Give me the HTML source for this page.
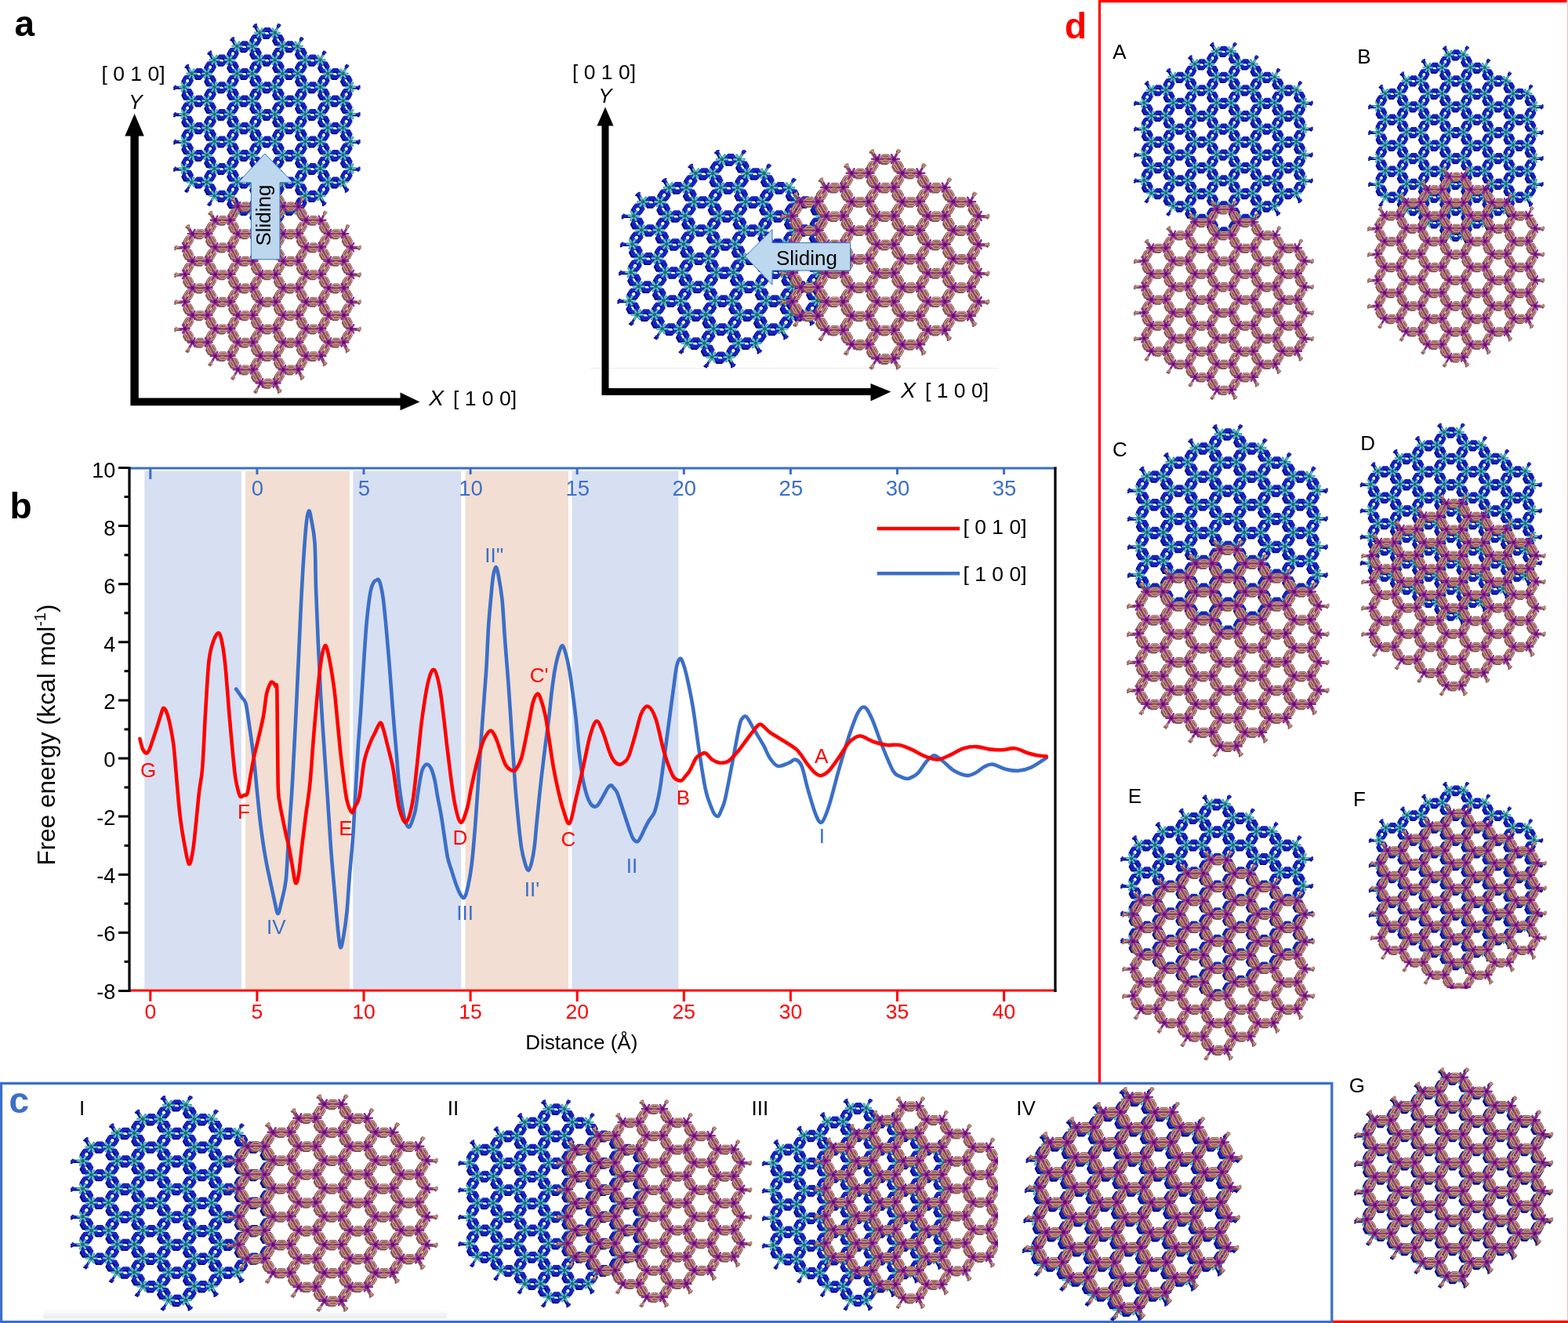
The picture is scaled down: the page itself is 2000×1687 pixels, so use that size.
<!DOCTYPE html><html><head><meta charset="utf-8"><title>Figure</title><style>
body{margin:0;background:#fff}
svg{display:block}
text{font-family:"Liberation Sans",Arial,sans-serif}
.rbs{fill:none;stroke:#06087a;stroke-width:.11;stroke-linejoin:round}
.rb1{fill:none;stroke:#0a10a2;stroke-width:.13;stroke-linejoin:round}
.rb2{fill:none;stroke:#2238dc;stroke-width:.05;stroke-linejoin:round}
.nb1{fill:none;stroke:#2f9a9e;stroke-width:.14;stroke-linecap:round}
.nb2{fill:none;stroke:#86e0e0;stroke-width:.045;stroke-linecap:round}
.cb{fill:none;stroke:#246a70;stroke-width:.22;stroke-linecap:round}
.rps{fill:none;stroke:#8a5a56;stroke-width:.11;stroke-linejoin:round}
.rp1{fill:none;stroke:#744c48;stroke-width:.13;stroke-linejoin:round}
.rp2{fill:none;stroke:#d89a90;stroke-width:.065;stroke-linejoin:round}
.np1{fill:none;stroke:#7c1a86;stroke-width:.12;stroke-linecap:round}
.np2{fill:none;stroke:#b63cc0;stroke-width:.04;stroke-linecap:round}
.cp{fill:none;stroke:#62106c;stroke-width:.22;stroke-linecap:round}
</style></head><body>
<svg width="2000" height="1687" viewBox="0 0 2000 1687">
<defs>
<path id="R" d="M-2.7 -2.66L-2.85 -2.5 -3.15 -2.5 -3.3 -2.66 -3.15 -2.82 -2.85 -2.82ZM-2.7 -2.54L-2.85 -2.37 -3.15 -2.37 -3.3 -2.54 -3.15 -2.7 -2.85 -2.7ZM-3.4 -2.66L-3.3 -2.66M-2.7 -2.66L-2.6 -2.66M-3.4 -2.54L-3.3 -2.54M-2.7 -2.54L-2.6 -2.54M-3.85 -1.87L-3.91 -2.08 -3.76 -2.34 -3.55 -2.39 -3.48 -2.18 -3.63 -1.92ZM-3.95 -1.94L-4.02 -2.15 -3.87 -2.41 -3.65 -2.46 -3.59 -2.25 -3.74 -1.99ZM-3.5 -2.48L-3.55 -2.39M-3.85 -1.87L-3.9 -1.79M-3.6 -2.54L-3.65 -2.46M-3.95 -1.94L-4 -1.85M-3.95 -3.26L-3.74 -3.21 -3.59 -2.95 -3.65 -2.74 -3.87 -2.79 -4.02 -3.05ZM-3.85 -3.32L-3.63 -3.27 -3.48 -3.01 -3.55 -2.8 -3.76 -2.85 -3.91 -3.11ZM-3.6 -2.65L-3.65 -2.74M-3.95 -3.26L-4 -3.35M-3.5 -2.72L-3.55 -2.8M-3.85 -3.32L-3.9 -3.41M-3.55 -1.07L-3.76 -1.12 -3.91 -1.38 -3.85 -1.59 -3.63 -1.54 -3.48 -1.28ZM-3.65 -1.01L-3.87 -1.06 -4.02 -1.32 -3.95 -1.53 -3.74 -1.48 -3.59 -1.22ZM-3.9 -1.68L-3.85 -1.59M-3.55 -1.07L-3.5 -.98M-4 -1.61L-3.95 -1.53M-3.65 -1.01L-3.6 -.92M-4.8 -1.67L-4.65 -1.83 -4.35 -1.83 -4.2 -1.67 -4.35 -1.51 -4.65 -1.51ZM-4.8 -1.79L-4.65 -1.96 -4.35 -1.96 -4.2 -1.79 -4.35 -1.63 -4.65 -1.63ZM-4.1 -1.67L-4.2 -1.67M-4.8 -1.67L-4.9 -1.67M-4.1 -1.79L-4.2 -1.79M-4.8 -1.79L-4.9 -1.79M-5.35 -1.01L-5.41 -1.22 -5.26 -1.48 -5.05 -1.53 -4.98 -1.32 -5.13 -1.06ZM-5.45 -1.07L-5.52 -1.28 -5.37 -1.54 -5.15 -1.59 -5.09 -1.38 -5.24 -1.12ZM-5 -1.61L-5.05 -1.53M-5.35 -1.01L-5.4 -.92M-5.1 -1.68L-5.15 -1.59M-5.45 -1.07L-5.5 -.98M-5.45 -2.39L-5.24 -2.34 -5.09 -2.08 -5.15 -1.87 -5.37 -1.92 -5.52 -2.18ZM-5.35 -2.46L-5.13 -2.41 -4.98 -2.15 -5.05 -1.94 -5.26 -1.99 -5.41 -2.25ZM-5.1 -1.79L-5.15 -1.87M-5.45 -2.39L-5.5 -2.48M-5 -1.85L-5.05 -1.94M-5.35 -2.46L-5.4 -2.54M-5.15 -3.32L-5.09 -3.11 -5.24 -2.85 -5.45 -2.8 -5.52 -3.01 -5.37 -3.27ZM-5.05 -3.26L-4.98 -3.05 -5.13 -2.79 -5.35 -2.74 -5.41 -2.95 -5.26 -3.21ZM-5.5 -2.72L-5.45 -2.8M-5.15 -3.32L-5.1 -3.41M-5.4 -2.65L-5.35 -2.74M-5.05 -3.26L-5 -3.35M-4.2 -3.53L-4.35 -3.37 -4.65 -3.37 -4.8 -3.53 -4.65 -3.69 -4.35 -3.69ZM-4.2 -3.4L-4.35 -3.24 -4.65 -3.24 -4.8 -3.4 -4.65 -3.56 -4.35 -3.56ZM-4.9 -3.53L-4.8 -3.53M-4.2 -3.53L-4.1 -3.53M-4.9 -3.4L-4.8 -3.4M-4.2 -3.4L-4.1 -3.4M-3.65 -4.19L-3.59 -3.98 -3.74 -3.72 -3.95 -3.67 -4.02 -3.88 -3.87 -4.14ZM-3.55 -4.13L-3.48 -3.92 -3.63 -3.66 -3.85 -3.61 -3.91 -3.82 -3.76 -4.08ZM-4 -3.58L-3.95 -3.67M-3.65 -4.19L-3.6 -4.27M-3.9 -3.52L-3.85 -3.61M-3.55 -4.13L-3.5 -4.21M-2.7 -.93L-2.85 -.77 -3.15 -.77 -3.3 -.93 -3.15 -1.09 -2.85 -1.09ZM-2.7 -.8L-2.85 -.64 -3.15 -.64 -3.3 -.8 -3.15 -.97 -2.85 -.97ZM-3.4 -.93L-3.3 -.93M-2.7 -.93L-2.6 -.93M-3.4 -.8L-3.3 -.8M-2.7 -.8L-2.6 -.8M-3.85 -.14L-3.91 -.35 -3.76 -.61 -3.55 -.66 -3.48 -.45 -3.63 -.19ZM-3.95 -.2L-4.02 -.41 -3.87 -.67 -3.65 -.72 -3.59 -.51 -3.74 -.25ZM-3.5 -.75L-3.55 -.66M-3.85 -.14L-3.9 -.06M-3.6 -.81L-3.65 -.72M-3.95 -.2L-4 -.12M-3.55 .66L-3.76 .61 -3.91 .35 -3.85 .14 -3.63 .19 -3.48 .45ZM-3.65 .72L-3.87 .67 -4.02 .41 -3.95 .2 -3.74 .25 -3.59 .51ZM-3.9 .06L-3.85 .14M-3.55 .66L-3.5 .75M-4 .12L-3.95 .2M-3.65 .72L-3.6 .81M-4.8 .06L-4.65 -.1 -4.35 -.1 -4.2 .06 -4.35 .22 -4.65 .22ZM-4.8 -.06L-4.65 -.22 -4.35 -.22 -4.2 -.06 -4.35 .1 -4.65 .1ZM-4.1 .06L-4.2 .06M-4.8 .06L-4.9 .06M-4.1 -.06L-4.2 -.06M-4.8 -.06L-4.9 -.06M-5.35 .72L-5.41 .51 -5.26 .25 -5.05 .2 -4.98 .41 -5.13 .67ZM-5.45 .66L-5.52 .45 -5.37 .19 -5.15 .14 -5.09 .35 -5.24 .61ZM-5 .12L-5.05 .2M-5.35 .72L-5.4 .81M-5.1 .06L-5.15 .14M-5.45 .66L-5.5 .75M-5.45 -.66L-5.24 -.61 -5.09 -.35 -5.15 -.14 -5.37 -.19 -5.52 -.45ZM-5.35 -.72L-5.13 -.67 -4.98 -.41 -5.05 -.2 -5.26 -.25 -5.41 -.51ZM-5.1 -.06L-5.15 -.14M-5.45 -.66L-5.5 -.75M-5 -.12L-5.05 -.2M-5.35 -.72L-5.4 -.81M-2.7 .8L-2.85 .97 -3.15 .97 -3.3 .8 -3.15 .64 -2.85 .64ZM-2.7 .93L-2.85 1.09 -3.15 1.09 -3.3 .93 -3.15 .77 -2.85 .77ZM-3.4 .8L-3.3 .8M-2.7 .8L-2.6 .8M-3.4 .93L-3.3 .93M-2.7 .93L-2.6 .93M-3.85 1.59L-3.91 1.38 -3.76 1.12 -3.55 1.07 -3.48 1.28 -3.63 1.54ZM-3.95 1.53L-4.02 1.32 -3.87 1.06 -3.65 1.01 -3.59 1.22 -3.74 1.48ZM-3.5 .98L-3.55 1.07M-3.85 1.59L-3.9 1.68M-3.6 .92L-3.65 1.01M-3.95 1.53L-4 1.61M-3.55 2.39L-3.76 2.34 -3.91 2.08 -3.85 1.87 -3.63 1.92 -3.48 2.18ZM-3.65 2.46L-3.87 2.41 -4.02 2.15 -3.95 1.94 -3.74 1.99 -3.59 2.25ZM-3.9 1.79L-3.85 1.87M-3.55 2.39L-3.5 2.48M-4 1.85L-3.95 1.94M-3.65 2.46L-3.6 2.54M-4.8 1.79L-4.65 1.63 -4.35 1.63 -4.2 1.79 -4.35 1.96 -4.65 1.96ZM-4.8 1.67L-4.65 1.51 -4.35 1.51 -4.2 1.67 -4.35 1.83 -4.65 1.83ZM-4.1 1.79L-4.2 1.79M-4.8 1.79L-4.9 1.79M-4.1 1.67L-4.2 1.67M-4.8 1.67L-4.9 1.67M-5.35 2.46L-5.41 2.25 -5.26 1.99 -5.05 1.94 -4.98 2.15 -5.13 2.41ZM-5.45 2.39L-5.52 2.18 -5.37 1.92 -5.15 1.87 -5.09 2.08 -5.24 2.34ZM-5 1.85L-5.05 1.94M-5.35 2.46L-5.4 2.54M-5.1 1.79L-5.15 1.87M-5.45 2.39L-5.5 2.48M-5.45 1.07L-5.24 1.12 -5.09 1.38 -5.15 1.59 -5.37 1.54 -5.52 1.28ZM-5.35 1.01L-5.13 1.06 -4.98 1.32 -5.05 1.53 -5.26 1.48 -5.41 1.22ZM-5.1 1.68L-5.15 1.59M-5.45 1.07L-5.5 .98M-5 1.61L-5.05 1.53M-5.35 1.01L-5.4 .92M-2.7 2.54L-2.85 2.7 -3.15 2.7 -3.3 2.54 -3.15 2.37 -2.85 2.37ZM-2.7 2.66L-2.85 2.82 -3.15 2.82 -3.3 2.66 -3.15 2.5 -2.85 2.5ZM-3.4 2.54L-3.3 2.54M-2.7 2.54L-2.6 2.54M-3.4 2.66L-3.3 2.66M-2.7 2.66L-2.6 2.66M-3.85 3.32L-3.91 3.11 -3.76 2.85 -3.55 2.8 -3.48 3.01 -3.63 3.27ZM-3.95 3.26L-4.02 3.05 -3.87 2.79 -3.65 2.74 -3.59 2.95 -3.74 3.21ZM-3.5 2.72L-3.55 2.8M-3.85 3.32L-3.9 3.41M-3.6 2.65L-3.65 2.74M-3.95 3.26L-4 3.35M-3.55 4.13L-3.76 4.08 -3.91 3.82 -3.85 3.61 -3.63 3.66 -3.48 3.92ZM-3.65 4.19L-3.87 4.14 -4.02 3.88 -3.95 3.67 -3.74 3.72 -3.59 3.98ZM-3.9 3.52L-3.85 3.61M-3.55 4.13L-3.5 4.21M-4 3.58L-3.95 3.67M-3.65 4.19L-3.6 4.27M-4.8 3.53L-4.65 3.37 -4.35 3.37 -4.2 3.53 -4.35 3.69 -4.65 3.69ZM-4.8 3.4L-4.65 3.24 -4.35 3.24 -4.2 3.4 -4.35 3.56 -4.65 3.56ZM-4.1 3.53L-4.2 3.53M-4.8 3.53L-4.9 3.53M-4.1 3.4L-4.2 3.4M-4.8 3.4L-4.9 3.4M-5.45 2.8L-5.24 2.85 -5.09 3.11 -5.15 3.32 -5.37 3.27 -5.52 3.01ZM-5.35 2.74L-5.13 2.79 -4.98 3.05 -5.05 3.26 -5.26 3.21 -5.41 2.95ZM-5.1 3.41L-5.15 3.32M-5.45 2.8L-5.5 2.72M-5 3.35L-5.05 3.26M-5.35 2.74L-5.4 2.65M-1.2 -3.53L-1.35 -3.37 -1.65 -3.37 -1.8 -3.53 -1.65 -3.69 -1.35 -3.69ZM-1.2 -3.4L-1.35 -3.24 -1.65 -3.24 -1.8 -3.4 -1.65 -3.56 -1.35 -3.56ZM-1.9 -3.53L-1.8 -3.53M-1.2 -3.53L-1.1 -3.53M-1.9 -3.4L-1.8 -3.4M-1.2 -3.4L-1.1 -3.4M-2.35 -2.74L-2.41 -2.95 -2.26 -3.21 -2.05 -3.26 -1.98 -3.05 -2.13 -2.79ZM-2.45 -2.8L-2.52 -3.01 -2.37 -3.27 -2.15 -3.32 -2.09 -3.11 -2.24 -2.85ZM-2 -3.35L-2.05 -3.26M-2.35 -2.74L-2.4 -2.65M-2.1 -3.41L-2.15 -3.32M-2.45 -2.8L-2.5 -2.72M-2.45 -4.13L-2.24 -4.08 -2.09 -3.82 -2.15 -3.61 -2.37 -3.66 -2.52 -3.92ZM-2.35 -4.19L-2.13 -4.14 -1.98 -3.88 -2.05 -3.67 -2.26 -3.72 -2.41 -3.98ZM-2.1 -3.52L-2.15 -3.61M-2.45 -4.13L-2.5 -4.21M-2 -3.58L-2.05 -3.67M-2.35 -4.19L-2.4 -4.27M-2.05 -1.94L-2.26 -1.99 -2.41 -2.25 -2.35 -2.46 -2.13 -2.41 -1.98 -2.15ZM-2.15 -1.87L-2.37 -1.92 -2.52 -2.18 -2.45 -2.39 -2.24 -2.34 -2.09 -2.08ZM-2.4 -2.54L-2.35 -2.46M-2.05 -1.94L-2 -1.85M-2.5 -2.48L-2.45 -2.39M-2.15 -1.87L-2.1 -1.79M-2.7 -4.39L-2.85 -4.23 -3.15 -4.23 -3.3 -4.39 -3.15 -4.55 -2.85 -4.55ZM-2.7 -4.27L-2.85 -4.11 -3.15 -4.11 -3.3 -4.27 -3.15 -4.43 -2.85 -4.43ZM-3.4 -4.39L-3.3 -4.39M-2.7 -4.39L-2.6 -4.39M-3.4 -4.27L-3.3 -4.27M-2.7 -4.27L-2.6 -4.27M-2.15 -5.05L-2.09 -4.84 -2.24 -4.58 -2.45 -4.53 -2.52 -4.74 -2.37 -5ZM-2.05 -4.99L-1.98 -4.78 -2.13 -4.52 -2.35 -4.47 -2.41 -4.68 -2.26 -4.94ZM-2.5 -4.45L-2.45 -4.53M-2.15 -5.05L-2.1 -5.14M-2.4 -4.39L-2.35 -4.47M-2.05 -4.99L-2 -5.08M-1.2 -1.79L-1.35 -1.63 -1.65 -1.63 -1.8 -1.79 -1.65 -1.96 -1.35 -1.96ZM-1.2 -1.67L-1.35 -1.51 -1.65 -1.51 -1.8 -1.67 -1.65 -1.83 -1.35 -1.83ZM-1.9 -1.79L-1.8 -1.79M-1.2 -1.79L-1.1 -1.79M-1.9 -1.67L-1.8 -1.67M-1.2 -1.67L-1.1 -1.67M-2.35 -1.01L-2.41 -1.22 -2.26 -1.48 -2.05 -1.53 -1.98 -1.32 -2.13 -1.06ZM-2.45 -1.07L-2.52 -1.28 -2.37 -1.54 -2.15 -1.59 -2.09 -1.38 -2.24 -1.12ZM-2 -1.61L-2.05 -1.53M-2.35 -1.01L-2.4 -.92M-2.1 -1.68L-2.15 -1.59M-2.45 -1.07L-2.5 -.98M-2.05 -.2L-2.26 -.25 -2.41 -.51 -2.35 -.72 -2.13 -.67 -1.98 -.41ZM-2.15 -.14L-2.37 -.19 -2.52 -.45 -2.45 -.66 -2.24 -.61 -2.09 -.35ZM-2.4 -.81L-2.35 -.72M-2.05 -.2L-2 -.12M-2.5 -.75L-2.45 -.66M-2.15 -.14L-2.1 -.06M-1.2 -.06L-1.35 .1 -1.65 .1 -1.8 -.06 -1.65 -.22 -1.35 -.22ZM-1.2 .06L-1.35 .22 -1.65 .22 -1.8 .06 -1.65 -.1 -1.35 -.1ZM-1.9 -.06L-1.8 -.06M-1.2 -.06L-1.1 -.06M-1.9 .06L-1.8 .06M-1.2 .06L-1.1 .06M-2.35 .72L-2.41 .51 -2.26 .25 -2.05 .2 -1.98 .41 -2.13 .67ZM-2.45 .66L-2.52 .45 -2.37 .19 -2.15 .14 -2.09 .35 -2.24 .61ZM-2 .12L-2.05 .2M-2.35 .72L-2.4 .81M-2.1 .06L-2.15 .14M-2.45 .66L-2.5 .75M-2.05 1.53L-2.26 1.48 -2.41 1.22 -2.35 1.01 -2.13 1.06 -1.98 1.32ZM-2.15 1.59L-2.37 1.54 -2.52 1.28 -2.45 1.07 -2.24 1.12 -2.09 1.38ZM-2.4 .92L-2.35 1.01M-2.05 1.53L-2 1.61M-2.5 .98L-2.45 1.07M-2.15 1.59L-2.1 1.68M-1.2 1.67L-1.35 1.83 -1.65 1.83 -1.8 1.67 -1.65 1.51 -1.35 1.51ZM-1.2 1.79L-1.35 1.96 -1.65 1.96 -1.8 1.79 -1.65 1.63 -1.35 1.63ZM-1.9 1.67L-1.8 1.67M-1.2 1.67L-1.1 1.67M-1.9 1.79L-1.8 1.79M-1.2 1.79L-1.1 1.79M-2.35 2.46L-2.41 2.25 -2.26 1.99 -2.05 1.94 -1.98 2.15 -2.13 2.41ZM-2.45 2.39L-2.52 2.18 -2.37 1.92 -2.15 1.87 -2.09 2.08 -2.24 2.34ZM-2 1.85L-2.05 1.94M-2.35 2.46L-2.4 2.54M-2.1 1.79L-2.15 1.87M-2.45 2.39L-2.5 2.48M-2.05 3.26L-2.26 3.21 -2.41 2.95 -2.35 2.74 -2.13 2.79 -1.98 3.05ZM-2.15 3.32L-2.37 3.27 -2.52 3.01 -2.45 2.8 -2.24 2.85 -2.09 3.11ZM-2.4 2.65L-2.35 2.74M-2.05 3.26L-2 3.35M-2.5 2.72L-2.45 2.8M-2.15 3.32L-2.1 3.41M-1.2 3.4L-1.35 3.56 -1.65 3.56 -1.8 3.4 -1.65 3.24 -1.35 3.24ZM-1.2 3.53L-1.35 3.69 -1.65 3.69 -1.8 3.53 -1.65 3.37 -1.35 3.37ZM-1.9 3.4L-1.8 3.4M-1.2 3.4L-1.1 3.4M-1.9 3.53L-1.8 3.53M-1.2 3.53L-1.1 3.53M-2.35 4.19L-2.41 3.98 -2.26 3.72 -2.05 3.67 -1.98 3.88 -2.13 4.14ZM-2.45 4.13L-2.52 3.92 -2.37 3.66 -2.15 3.61 -2.09 3.82 -2.24 4.08ZM-2 3.58L-2.05 3.67M-2.35 4.19L-2.4 4.27M-2.1 3.52L-2.15 3.61M-2.45 4.13L-2.5 4.21M-2.05 4.99L-2.26 4.94 -2.41 4.68 -2.35 4.47 -2.13 4.52 -1.98 4.78ZM-2.15 5.05L-2.37 5 -2.52 4.74 -2.45 4.53 -2.24 4.58 -2.09 4.84ZM-2.4 4.39L-2.35 4.47M-2.05 4.99L-2 5.08M-2.5 4.45L-2.45 4.53M-2.15 5.05L-2.1 5.14M-3.3 4.39L-3.15 4.23 -2.85 4.23 -2.7 4.39 -2.85 4.55 -3.15 4.55ZM-3.3 4.27L-3.15 4.11 -2.85 4.11 -2.7 4.27 -2.85 4.43 -3.15 4.43ZM-2.6 4.39L-2.7 4.39M-3.3 4.39L-3.4 4.39M-2.6 4.27L-2.7 4.27M-3.3 4.27L-3.4 4.27M.3 -4.39L.15 -4.23 -.15 -4.23 -.3 -4.39 -.15 -4.55 .15 -4.55ZM.3 -4.27L.15 -4.11 -.15 -4.11 -.3 -4.27 -.15 -4.43 .15 -4.43ZM-.4 -4.39L-.3 -4.39M.3 -4.39L.4 -4.39M-.4 -4.27L-.3 -4.27M.3 -4.27L.4 -4.27M-.85 -3.61L-.91 -3.82 -.76 -4.08 -.55 -4.13 -.48 -3.92 -.63 -3.66ZM-.95 -3.67L-1.02 -3.88 -.87 -4.14 -.65 -4.19 -.59 -3.98 -.74 -3.72ZM-.5 -4.21L-.55 -4.13M-.85 -3.61L-.9 -3.52M-.6 -4.27L-.65 -4.19M-.95 -3.67L-1 -3.58M-.95 -4.99L-.74 -4.94 -.59 -4.68 -.65 -4.47 -.87 -4.52 -1.02 -4.78ZM-.85 -5.05L-.63 -5 -.48 -4.74 -.55 -4.53 -.76 -4.58 -.91 -4.84ZM-.6 -4.39L-.65 -4.47M-.95 -4.99L-1 -5.08M-.5 -4.45L-.55 -4.53M-.85 -5.05L-.9 -5.14M-.55 -2.8L-.76 -2.85 -.91 -3.11 -.85 -3.32 -.63 -3.27 -.48 -3.01ZM-.65 -2.74L-.87 -2.79 -1.02 -3.05 -.95 -3.26 -.74 -3.21 -.59 -2.95ZM-.9 -3.41L-.85 -3.32M-.55 -2.8L-.5 -2.72M-1 -3.35L-.95 -3.26M-.65 -2.74L-.6 -2.65M-1.2 -5.26L-1.35 -5.1 -1.65 -5.1 -1.8 -5.26 -1.65 -5.42 -1.35 -5.42ZM-1.2 -5.13L-1.35 -4.97 -1.65 -4.97 -1.8 -5.13 -1.65 -5.3 -1.35 -5.3ZM-1.9 -5.26L-1.8 -5.26M-1.2 -5.26L-1.1 -5.26M-1.9 -5.13L-1.8 -5.13M-1.2 -5.13L-1.1 -5.13M-.65 -5.92L-.59 -5.71 -.74 -5.45 -.95 -5.4 -1.02 -5.61 -.87 -5.87ZM-.55 -5.86L-.48 -5.65 -.63 -5.39 -.85 -5.34 -.91 -5.55 -.76 -5.81ZM-1 -5.31L-.95 -5.4M-.65 -5.92L-.6 -6.01M-.9 -5.25L-.85 -5.34M-.55 -5.86L-.5 -5.94M.3 -2.66L.15 -2.5 -.15 -2.5 -.3 -2.66 -.15 -2.82 .15 -2.82ZM.3 -2.54L.15 -2.37 -.15 -2.37 -.3 -2.54 -.15 -2.7 .15 -2.7ZM-.4 -2.66L-.3 -2.66M.3 -2.66L.4 -2.66M-.4 -2.54L-.3 -2.54M.3 -2.54L.4 -2.54M-.85 -1.87L-.91 -2.08 -.76 -2.34 -.55 -2.39 -.48 -2.18 -.63 -1.92ZM-.95 -1.94L-1.02 -2.15 -.87 -2.41 -.65 -2.46 -.59 -2.25 -.74 -1.99ZM-.5 -2.48L-.55 -2.39M-.85 -1.87L-.9 -1.79M-.6 -2.54L-.65 -2.46M-.95 -1.94L-1 -1.85M-.55 -1.07L-.76 -1.12 -.91 -1.38 -.85 -1.59 -.63 -1.54 -.48 -1.28ZM-.65 -1.01L-.87 -1.06 -1.02 -1.32 -.95 -1.53 -.74 -1.48 -.59 -1.22ZM-.9 -1.68L-.85 -1.59M-.55 -1.07L-.5 -.98M-1 -1.61L-.95 -1.53M-.65 -1.01L-.6 -.92M.3 -.93L.15 -.77 -.15 -.77 -.3 -.93 -.15 -1.09 .15 -1.09ZM.3 -.8L.15 -.64 -.15 -.64 -.3 -.8 -.15 -.97 .15 -.97ZM-.4 -.93L-.3 -.93M.3 -.93L.4 -.93M-.4 -.8L-.3 -.8M.3 -.8L.4 -.8M-.85 -.14L-.91 -.35 -.76 -.61 -.55 -.66 -.48 -.45 -.63 -.19ZM-.95 -.2L-1.02 -.41 -.87 -.67 -.65 -.72 -.59 -.51 -.74 -.25ZM-.5 -.75L-.55 -.66M-.85 -.14L-.9 -.06M-.6 -.81L-.65 -.72M-.95 -.2L-1 -.12M-.55 .66L-.76 .61 -.91 .35 -.85 .14 -.63 .19 -.48 .45ZM-.65 .72L-.87 .67 -1.02 .41 -.95 .2 -.74 .25 -.59 .51ZM-.9 .06L-.85 .14M-.55 .66L-.5 .75M-1 .12L-.95 .2M-.65 .72L-.6 .81M.3 .8L.15 .97 -.15 .97 -.3 .8 -.15 .64 .15 .64ZM.3 .93L.15 1.09 -.15 1.09 -.3 .93 -.15 .77 .15 .77ZM-.4 .8L-.3 .8M.3 .8L.4 .8M-.4 .93L-.3 .93M.3 .93L.4 .93M-.85 1.59L-.91 1.38 -.76 1.12 -.55 1.07 -.48 1.28 -.63 1.54ZM-.95 1.53L-1.02 1.32 -.87 1.06 -.65 1.01 -.59 1.22 -.74 1.48ZM-.5 .98L-.55 1.07M-.85 1.59L-.9 1.68M-.6 .92L-.65 1.01M-.95 1.53L-1 1.61M-.55 2.39L-.76 2.34 -.91 2.08 -.85 1.87 -.63 1.92 -.48 2.18ZM-.65 2.46L-.87 2.41 -1.02 2.15 -.95 1.94 -.74 1.99 -.59 2.25ZM-.9 1.79L-.85 1.87M-.55 2.39L-.5 2.48M-1 1.85L-.95 1.94M-.65 2.46L-.6 2.54M.3 2.54L.15 2.7 -.15 2.7 -.3 2.54 -.15 2.37 .15 2.37ZM.3 2.66L.15 2.82 -.15 2.82 -.3 2.66 -.15 2.5 .15 2.5ZM-.4 2.54L-.3 2.54M.3 2.54L.4 2.54M-.4 2.66L-.3 2.66M.3 2.66L.4 2.66M-.85 3.32L-.91 3.11 -.76 2.85 -.55 2.8 -.48 3.01 -.63 3.27ZM-.95 3.26L-1.02 3.05 -.87 2.79 -.65 2.74 -.59 2.95 -.74 3.21ZM-.5 2.72L-.55 2.8M-.85 3.32L-.9 3.41M-.6 2.65L-.65 2.74M-.95 3.26L-1 3.35M-.55 4.13L-.76 4.08 -.91 3.82 -.85 3.61 -.63 3.66 -.48 3.92ZM-.65 4.19L-.87 4.14 -1.02 3.88 -.95 3.67 -.74 3.72 -.59 3.98ZM-.9 3.52L-.85 3.61M-.55 4.13L-.5 4.21M-1 3.58L-.95 3.67M-.65 4.19L-.6 4.27M.3 4.27L.15 4.43 -.15 4.43 -.3 4.27 -.15 4.11 .15 4.11ZM.3 4.39L.15 4.55 -.15 4.55 -.3 4.39 -.15 4.23 .15 4.23ZM-.4 4.27L-.3 4.27M.3 4.27L.4 4.27M-.4 4.39L-.3 4.39M.3 4.39L.4 4.39M-.85 5.05L-.91 4.84 -.76 4.58 -.55 4.53 -.48 4.74 -.63 5ZM-.95 4.99L-1.02 4.78 -.87 4.52 -.65 4.47 -.59 4.68 -.74 4.94ZM-.5 4.45L-.55 4.53M-.85 5.05L-.9 5.14M-.6 4.39L-.65 4.47M-.95 4.99L-1 5.08M-.55 5.86L-.76 5.81 -.91 5.55 -.85 5.34 -.63 5.39 -.48 5.65ZM-.65 5.92L-.87 5.87 -1.02 5.61 -.95 5.4 -.74 5.45 -.59 5.71ZM-.9 5.25L-.85 5.34M-.55 5.86L-.5 5.94M-1 5.31L-.95 5.4M-.65 5.92L-.6 6.01M-1.8 5.26L-1.65 5.1 -1.35 5.1 -1.2 5.26 -1.35 5.42 -1.65 5.42ZM-1.8 5.13L-1.65 4.97 -1.35 4.97 -1.2 5.13 -1.35 5.3 -1.65 5.3ZM-1.1 5.26L-1.2 5.26M-1.8 5.26L-1.9 5.26M-1.1 5.13L-1.2 5.13M-1.8 5.13L-1.9 5.13M1.8 -5.26L1.65 -5.1 1.35 -5.1 1.2 -5.26 1.35 -5.42 1.65 -5.42ZM1.8 -5.13L1.65 -4.97 1.35 -4.97 1.2 -5.13 1.35 -5.3 1.65 -5.3ZM1.1 -5.26L1.2 -5.26M1.8 -5.26L1.9 -5.26M1.1 -5.13L1.2 -5.13M1.8 -5.13L1.9 -5.13M.65 -4.47L.59 -4.68 .74 -4.94 .95 -4.99 1.02 -4.78 .87 -4.52ZM.55 -4.53L.48 -4.74 .63 -5 .85 -5.05 .91 -4.84 .76 -4.58ZM1 -5.08L.95 -4.99M.65 -4.47L.6 -4.39M.9 -5.14L.85 -5.05M.55 -4.53L.5 -4.45M.55 -5.86L.76 -5.81 .91 -5.55 .85 -5.34 .63 -5.39 .48 -5.65ZM.65 -5.92L.87 -5.87 1.02 -5.61 .95 -5.4 .74 -5.45 .59 -5.71ZM.9 -5.25L.85 -5.34M.55 -5.86L.5 -5.94M1 -5.31L.95 -5.4M.65 -5.92L.6 -6.01M.95 -3.67L.74 -3.72 .59 -3.98 .65 -4.19 .87 -4.14 1.02 -3.88ZM.85 -3.61L.63 -3.66 .48 -3.92 .55 -4.13 .76 -4.08 .91 -3.82ZM.6 -4.27L.65 -4.19M.95 -3.67L1 -3.58M.5 -4.21L.55 -4.13M.85 -3.61L.9 -3.52M.3 -6.12L.15 -5.96 -.15 -5.96 -.3 -6.12 -.15 -6.29 .15 -6.29ZM.3 -6L.15 -5.84 -.15 -5.84 -.3 -6 -.15 -6.16 .15 -6.16ZM-.4 -6.12L-.3 -6.12M.3 -6.12L.4 -6.12M-.4 -6L-.3 -6M.3 -6L.4 -6M1.8 -3.53L1.65 -3.37 1.35 -3.37 1.2 -3.53 1.35 -3.69 1.65 -3.69ZM1.8 -3.4L1.65 -3.24 1.35 -3.24 1.2 -3.4 1.35 -3.56 1.65 -3.56ZM1.1 -3.53L1.2 -3.53M1.8 -3.53L1.9 -3.53M1.1 -3.4L1.2 -3.4M1.8 -3.4L1.9 -3.4M.65 -2.74L.59 -2.95 .74 -3.21 .95 -3.26 1.02 -3.05 .87 -2.79ZM.55 -2.8L.48 -3.01 .63 -3.27 .85 -3.32 .91 -3.11 .76 -2.85ZM1 -3.35L.95 -3.26M.65 -2.74L.6 -2.65M.9 -3.41L.85 -3.32M.55 -2.8L.5 -2.72M.95 -1.94L.74 -1.99 .59 -2.25 .65 -2.46 .87 -2.41 1.02 -2.15ZM.85 -1.87L.63 -1.92 .48 -2.18 .55 -2.39 .76 -2.34 .91 -2.08ZM.6 -2.54L.65 -2.46M.95 -1.94L1 -1.85M.5 -2.48L.55 -2.39M.85 -1.87L.9 -1.79M1.8 -1.79L1.65 -1.63 1.35 -1.63 1.2 -1.79 1.35 -1.96 1.65 -1.96ZM1.8 -1.67L1.65 -1.51 1.35 -1.51 1.2 -1.67 1.35 -1.83 1.65 -1.83ZM1.1 -1.79L1.2 -1.79M1.8 -1.79L1.9 -1.79M1.1 -1.67L1.2 -1.67M1.8 -1.67L1.9 -1.67M.65 -1.01L.59 -1.22 .74 -1.48 .95 -1.53 1.02 -1.32 .87 -1.06ZM.55 -1.07L.48 -1.28 .63 -1.54 .85 -1.59 .91 -1.38 .76 -1.12ZM1 -1.61L.95 -1.53M.65 -1.01L.6 -.92M.9 -1.68L.85 -1.59M.55 -1.07L.5 -.98M.95 -.2L.74 -.25 .59 -.51 .65 -.72 .87 -.67 1.02 -.41ZM.85 -.14L.63 -.19 .48 -.45 .55 -.66 .76 -.61 .91 -.35ZM.6 -.81L.65 -.72M.95 -.2L1 -.12M.5 -.75L.55 -.66M.85 -.14L.9 -.06M1.8 -.06L1.65 .1 1.35 .1 1.2 -.06 1.35 -.22 1.65 -.22ZM1.8 .06L1.65 .22 1.35 .22 1.2 .06 1.35 -.1 1.65 -.1ZM1.1 -.06L1.2 -.06M1.8 -.06L1.9 -.06M1.1 .06L1.2 .06M1.8 .06L1.9 .06M.65 .72L.59 .51 .74 .25 .95 .2 1.02 .41 .87 .67ZM.55 .66L.48 .45 .63 .19 .85 .14 .91 .35 .76 .61ZM1 .12L.95 .2M.65 .72L.6 .81M.9 .06L.85 .14M.55 .66L.5 .75M.95 1.53L.74 1.48 .59 1.22 .65 1.01 .87 1.06 1.02 1.32ZM.85 1.59L.63 1.54 .48 1.28 .55 1.07 .76 1.12 .91 1.38ZM.6 .92L.65 1.01M.95 1.53L1 1.61M.5 .98L.55 1.07M.85 1.59L.9 1.68M1.8 1.67L1.65 1.83 1.35 1.83 1.2 1.67 1.35 1.51 1.65 1.51ZM1.8 1.79L1.65 1.96 1.35 1.96 1.2 1.79 1.35 1.63 1.65 1.63ZM1.1 1.67L1.2 1.67M1.8 1.67L1.9 1.67M1.1 1.79L1.2 1.79M1.8 1.79L1.9 1.79M.65 2.46L.59 2.25 .74 1.99 .95 1.94 1.02 2.15 .87 2.41ZM.55 2.39L.48 2.18 .63 1.92 .85 1.87 .91 2.08 .76 2.34ZM1 1.85L.95 1.94M.65 2.46L.6 2.54M.9 1.79L.85 1.87M.55 2.39L.5 2.48M.95 3.26L.74 3.21 .59 2.95 .65 2.74 .87 2.79 1.02 3.05ZM.85 3.32L.63 3.27 .48 3.01 .55 2.8 .76 2.85 .91 3.11ZM.6 2.65L.65 2.74M.95 3.26L1 3.35M.5 2.72L.55 2.8M.85 3.32L.9 3.41M1.8 3.4L1.65 3.56 1.35 3.56 1.2 3.4 1.35 3.24 1.65 3.24ZM1.8 3.53L1.65 3.69 1.35 3.69 1.2 3.53 1.35 3.37 1.65 3.37ZM1.1 3.4L1.2 3.4M1.8 3.4L1.9 3.4M1.1 3.53L1.2 3.53M1.8 3.53L1.9 3.53M.65 4.19L.59 3.98 .74 3.72 .95 3.67 1.02 3.88 .87 4.14ZM.55 4.13L.48 3.92 .63 3.66 .85 3.61 .91 3.82 .76 4.08ZM1 3.58L.95 3.67M.65 4.19L.6 4.27M.9 3.52L.85 3.61M.55 4.13L.5 4.21M.95 4.99L.74 4.94 .59 4.68 .65 4.47 .87 4.52 1.02 4.78ZM.85 5.05L.63 5 .48 4.74 .55 4.53 .76 4.58 .91 4.84ZM.6 4.39L.65 4.47M.95 4.99L1 5.08M.5 4.45L.55 4.53M.85 5.05L.9 5.14M1.8 5.13L1.65 5.3 1.35 5.3 1.2 5.13 1.35 4.97 1.65 4.97ZM1.8 5.26L1.65 5.42 1.35 5.42 1.2 5.26 1.35 5.1 1.65 5.1ZM1.1 5.13L1.2 5.13M1.8 5.13L1.9 5.13M1.1 5.26L1.2 5.26M1.8 5.26L1.9 5.26M.65 5.92L.59 5.71 .74 5.45 .95 5.4 1.02 5.61 .87 5.87ZM.55 5.86L.48 5.65 .63 5.39 .85 5.34 .91 5.55 .76 5.81ZM1 5.31L.95 5.4M.65 5.92L.6 6.01M.9 5.25L.85 5.34M.55 5.86L.5 5.94M-.3 6.12L-.15 5.96 .15 5.96 .3 6.12 .15 6.29 -.15 6.29ZM-.3 6L-.15 5.84 .15 5.84 .3 6 .15 6.16 -.15 6.16ZM.4 6.12L.3 6.12M-.3 6.12L-.4 6.12M.4 6L.3 6M-.3 6L-.4 6M3.3 -4.39L3.15 -4.23 2.85 -4.23 2.7 -4.39 2.85 -4.55 3.15 -4.55ZM3.3 -4.27L3.15 -4.11 2.85 -4.11 2.7 -4.27 2.85 -4.43 3.15 -4.43ZM2.6 -4.39L2.7 -4.39M3.3 -4.39L3.4 -4.39M2.6 -4.27L2.7 -4.27M3.3 -4.27L3.4 -4.27M2.15 -3.61L2.09 -3.82 2.24 -4.08 2.45 -4.13 2.52 -3.92 2.37 -3.66ZM2.05 -3.67L1.98 -3.88 2.13 -4.14 2.35 -4.19 2.41 -3.98 2.26 -3.72ZM2.5 -4.21L2.45 -4.13M2.15 -3.61L2.1 -3.52M2.4 -4.27L2.35 -4.19M2.05 -3.67L2 -3.58M2.05 -4.99L2.26 -4.94 2.41 -4.68 2.35 -4.47 2.13 -4.52 1.98 -4.78ZM2.15 -5.05L2.37 -5 2.52 -4.74 2.45 -4.53 2.24 -4.58 2.09 -4.84ZM2.4 -4.39L2.35 -4.47M2.05 -4.99L2 -5.08M2.5 -4.45L2.45 -4.53M2.15 -5.05L2.1 -5.14M2.45 -2.8L2.24 -2.85 2.09 -3.11 2.15 -3.32 2.37 -3.27 2.52 -3.01ZM2.35 -2.74L2.13 -2.79 1.98 -3.05 2.05 -3.26 2.26 -3.21 2.41 -2.95ZM2.1 -3.41L2.15 -3.32M2.45 -2.8L2.5 -2.72M2 -3.35L2.05 -3.26M2.35 -2.74L2.4 -2.65M3.3 -2.66L3.15 -2.5 2.85 -2.5 2.7 -2.66 2.85 -2.82 3.15 -2.82ZM3.3 -2.54L3.15 -2.37 2.85 -2.37 2.7 -2.54 2.85 -2.7 3.15 -2.7ZM2.6 -2.66L2.7 -2.66M3.3 -2.66L3.4 -2.66M2.6 -2.54L2.7 -2.54M3.3 -2.54L3.4 -2.54M2.15 -1.87L2.09 -2.08 2.24 -2.34 2.45 -2.39 2.52 -2.18 2.37 -1.92ZM2.05 -1.94L1.98 -2.15 2.13 -2.41 2.35 -2.46 2.41 -2.25 2.26 -1.99ZM2.5 -2.48L2.45 -2.39M2.15 -1.87L2.1 -1.79M2.4 -2.54L2.35 -2.46M2.05 -1.94L2 -1.85M2.45 -1.07L2.24 -1.12 2.09 -1.38 2.15 -1.59 2.37 -1.54 2.52 -1.28ZM2.35 -1.01L2.13 -1.06 1.98 -1.32 2.05 -1.53 2.26 -1.48 2.41 -1.22ZM2.1 -1.68L2.15 -1.59M2.45 -1.07L2.5 -.98M2 -1.61L2.05 -1.53M2.35 -1.01L2.4 -.92M3.3 -.93L3.15 -.77 2.85 -.77 2.7 -.93 2.85 -1.09 3.15 -1.09ZM3.3 -.8L3.15 -.64 2.85 -.64 2.7 -.8 2.85 -.97 3.15 -.97ZM2.6 -.93L2.7 -.93M3.3 -.93L3.4 -.93M2.6 -.8L2.7 -.8M3.3 -.8L3.4 -.8M2.15 -.14L2.09 -.35 2.24 -.61 2.45 -.66 2.52 -.45 2.37 -.19ZM2.05 -.2L1.98 -.41 2.13 -.67 2.35 -.72 2.41 -.51 2.26 -.25ZM2.5 -.75L2.45 -.66M2.15 -.14L2.1 -.06M2.4 -.81L2.35 -.72M2.05 -.2L2 -.12M2.45 .66L2.24 .61 2.09 .35 2.15 .14 2.37 .19 2.52 .45ZM2.35 .72L2.13 .67 1.98 .41 2.05 .2 2.26 .25 2.41 .51ZM2.1 .06L2.15 .14M2.45 .66L2.5 .75M2 .12L2.05 .2M2.35 .72L2.4 .81M3.3 .8L3.15 .97 2.85 .97 2.7 .8 2.85 .64 3.15 .64ZM3.3 .93L3.15 1.09 2.85 1.09 2.7 .93 2.85 .77 3.15 .77ZM2.6 .8L2.7 .8M3.3 .8L3.4 .8M2.6 .93L2.7 .93M3.3 .93L3.4 .93M2.15 1.59L2.09 1.38 2.24 1.12 2.45 1.07 2.52 1.28 2.37 1.54ZM2.05 1.53L1.98 1.32 2.13 1.06 2.35 1.01 2.41 1.22 2.26 1.48ZM2.5 .98L2.45 1.07M2.15 1.59L2.1 1.68M2.4 .92L2.35 1.01M2.05 1.53L2 1.61M2.45 2.39L2.24 2.34 2.09 2.08 2.15 1.87 2.37 1.92 2.52 2.18ZM2.35 2.46L2.13 2.41 1.98 2.15 2.05 1.94 2.26 1.99 2.41 2.25ZM2.1 1.79L2.15 1.87M2.45 2.39L2.5 2.48M2 1.85L2.05 1.94M2.35 2.46L2.4 2.54M3.3 2.54L3.15 2.7 2.85 2.7 2.7 2.54 2.85 2.37 3.15 2.37ZM3.3 2.66L3.15 2.82 2.85 2.82 2.7 2.66 2.85 2.5 3.15 2.5ZM2.6 2.54L2.7 2.54M3.3 2.54L3.4 2.54M2.6 2.66L2.7 2.66M3.3 2.66L3.4 2.66M2.15 3.32L2.09 3.11 2.24 2.85 2.45 2.8 2.52 3.01 2.37 3.27ZM2.05 3.26L1.98 3.05 2.13 2.79 2.35 2.74 2.41 2.95 2.26 3.21ZM2.5 2.72L2.45 2.8M2.15 3.32L2.1 3.41M2.4 2.65L2.35 2.74M2.05 3.26L2 3.35M2.45 4.13L2.24 4.08 2.09 3.82 2.15 3.61 2.37 3.66 2.52 3.92ZM2.35 4.19L2.13 4.14 1.98 3.88 2.05 3.67 2.26 3.72 2.41 3.98ZM2.1 3.52L2.15 3.61M2.45 4.13L2.5 4.21M2 3.58L2.05 3.67M2.35 4.19L2.4 4.27M3.3 4.27L3.15 4.43 2.85 4.43 2.7 4.27 2.85 4.11 3.15 4.11ZM3.3 4.39L3.15 4.55 2.85 4.55 2.7 4.39 2.85 4.23 3.15 4.23ZM2.6 4.27L2.7 4.27M3.3 4.27L3.4 4.27M2.6 4.39L2.7 4.39M3.3 4.39L3.4 4.39M2.15 5.05L2.09 4.84 2.24 4.58 2.45 4.53 2.52 4.74 2.37 5ZM2.05 4.99L1.98 4.78 2.13 4.52 2.35 4.47 2.41 4.68 2.26 4.94ZM2.5 4.45L2.45 4.53M2.15 5.05L2.1 5.14M2.4 4.39L2.35 4.47M2.05 4.99L2 5.08M4.8 -3.53L4.65 -3.37 4.35 -3.37 4.2 -3.53 4.35 -3.69 4.65 -3.69ZM4.8 -3.4L4.65 -3.24 4.35 -3.24 4.2 -3.4 4.35 -3.56 4.65 -3.56ZM4.1 -3.53L4.2 -3.53M4.8 -3.53L4.9 -3.53M4.1 -3.4L4.2 -3.4M4.8 -3.4L4.9 -3.4M3.65 -2.74L3.59 -2.95 3.74 -3.21 3.95 -3.26 4.02 -3.05 3.87 -2.79ZM3.55 -2.8L3.48 -3.01 3.63 -3.27 3.85 -3.32 3.91 -3.11 3.76 -2.85ZM4 -3.35L3.95 -3.26M3.65 -2.74L3.6 -2.65M3.9 -3.41L3.85 -3.32M3.55 -2.8L3.5 -2.72M3.55 -4.13L3.76 -4.08 3.91 -3.82 3.85 -3.61 3.63 -3.66 3.48 -3.92ZM3.65 -4.19L3.87 -4.14 4.02 -3.88 3.95 -3.67 3.74 -3.72 3.59 -3.98ZM3.9 -3.52L3.85 -3.61M3.55 -4.13L3.5 -4.21M4 -3.58L3.95 -3.67M3.65 -4.19L3.6 -4.27M3.95 -1.94L3.74 -1.99 3.59 -2.25 3.65 -2.46 3.87 -2.41 4.02 -2.15ZM3.85 -1.87L3.63 -1.92 3.48 -2.18 3.55 -2.39 3.76 -2.34 3.91 -2.08ZM3.6 -2.54L3.65 -2.46M3.95 -1.94L4 -1.85M3.5 -2.48L3.55 -2.39M3.85 -1.87L3.9 -1.79M4.8 -1.79L4.65 -1.63 4.35 -1.63 4.2 -1.79 4.35 -1.96 4.65 -1.96ZM4.8 -1.67L4.65 -1.51 4.35 -1.51 4.2 -1.67 4.35 -1.83 4.65 -1.83ZM4.1 -1.79L4.2 -1.79M4.8 -1.79L4.9 -1.79M4.1 -1.67L4.2 -1.67M4.8 -1.67L4.9 -1.67M3.65 -1.01L3.59 -1.22 3.74 -1.48 3.95 -1.53 4.02 -1.32 3.87 -1.06ZM3.55 -1.07L3.48 -1.28 3.63 -1.54 3.85 -1.59 3.91 -1.38 3.76 -1.12ZM4 -1.61L3.95 -1.53M3.65 -1.01L3.6 -.92M3.9 -1.68L3.85 -1.59M3.55 -1.07L3.5 -.98M3.95 -.2L3.74 -.25 3.59 -.51 3.65 -.72 3.87 -.67 4.02 -.41ZM3.85 -.14L3.63 -.19 3.48 -.45 3.55 -.66 3.76 -.61 3.91 -.35ZM3.6 -.81L3.65 -.72M3.95 -.2L4 -.12M3.5 -.75L3.55 -.66M3.85 -.14L3.9 -.06M4.8 -.06L4.65 .1 4.35 .1 4.2 -.06 4.35 -.22 4.65 -.22ZM4.8 .06L4.65 .22 4.35 .22 4.2 .06 4.35 -.1 4.65 -.1ZM4.1 -.06L4.2 -.06M4.8 -.06L4.9 -.06M4.1 .06L4.2 .06M4.8 .06L4.9 .06M3.65 .72L3.59 .51 3.74 .25 3.95 .2 4.02 .41 3.87 .67ZM3.55 .66L3.48 .45 3.63 .19 3.85 .14 3.91 .35 3.76 .61ZM4 .12L3.95 .2M3.65 .72L3.6 .81M3.9 .06L3.85 .14M3.55 .66L3.5 .75M3.95 1.53L3.74 1.48 3.59 1.22 3.65 1.01 3.87 1.06 4.02 1.32ZM3.85 1.59L3.63 1.54 3.48 1.28 3.55 1.07 3.76 1.12 3.91 1.38ZM3.6 .92L3.65 1.01M3.95 1.53L4 1.61M3.5 .98L3.55 1.07M3.85 1.59L3.9 1.68M4.8 1.67L4.65 1.83 4.35 1.83 4.2 1.67 4.35 1.51 4.65 1.51ZM4.8 1.79L4.65 1.96 4.35 1.96 4.2 1.79 4.35 1.63 4.65 1.63ZM4.1 1.67L4.2 1.67M4.8 1.67L4.9 1.67M4.1 1.79L4.2 1.79M4.8 1.79L4.9 1.79M3.65 2.46L3.59 2.25 3.74 1.99 3.95 1.94 4.02 2.15 3.87 2.41ZM3.55 2.39L3.48 2.18 3.63 1.92 3.85 1.87 3.91 2.08 3.76 2.34ZM4 1.85L3.95 1.94M3.65 2.46L3.6 2.54M3.9 1.79L3.85 1.87M3.55 2.39L3.5 2.48M3.95 3.26L3.74 3.21 3.59 2.95 3.65 2.74 3.87 2.79 4.02 3.05ZM3.85 3.32L3.63 3.27 3.48 3.01 3.55 2.8 3.76 2.85 3.91 3.11ZM3.6 2.65L3.65 2.74M3.95 3.26L4 3.35M3.5 2.72L3.55 2.8M3.85 3.32L3.9 3.41M4.8 3.4L4.65 3.56 4.35 3.56 4.2 3.4 4.35 3.24 4.65 3.24ZM4.8 3.53L4.65 3.69 4.35 3.69 4.2 3.53 4.35 3.37 4.65 3.37ZM4.1 3.4L4.2 3.4M4.8 3.4L4.9 3.4M4.1 3.53L4.2 3.53M4.8 3.53L4.9 3.53M3.65 4.19L3.59 3.98 3.74 3.72 3.95 3.67 4.02 3.88 3.87 4.14ZM3.55 4.13L3.48 3.92 3.63 3.66 3.85 3.61 3.91 3.82 3.76 4.08ZM4 3.58L3.95 3.67M3.65 4.19L3.6 4.27M3.9 3.52L3.85 3.61M3.55 4.13L3.5 4.21M5.15 -1.87L5.09 -2.08 5.24 -2.34 5.45 -2.39 5.52 -2.18 5.37 -1.92ZM5.05 -1.94L4.98 -2.15 5.13 -2.41 5.35 -2.46 5.41 -2.25 5.26 -1.99ZM5.5 -2.48L5.45 -2.39M5.15 -1.87L5.1 -1.79M5.4 -2.54L5.35 -2.46M5.05 -1.94L5 -1.85M5.05 -3.26L5.26 -3.21 5.41 -2.95 5.35 -2.74 5.13 -2.79 4.98 -3.05ZM5.15 -3.32L5.37 -3.27 5.52 -3.01 5.45 -2.8 5.24 -2.85 5.09 -3.11ZM5.4 -2.65L5.35 -2.74M5.05 -3.26L5 -3.35M5.5 -2.72L5.45 -2.8M5.15 -3.32L5.1 -3.41M5.45 -1.07L5.24 -1.12 5.09 -1.38 5.15 -1.59 5.37 -1.54 5.52 -1.28ZM5.35 -1.01L5.13 -1.06 4.98 -1.32 5.05 -1.53 5.26 -1.48 5.41 -1.22ZM5.1 -1.68L5.15 -1.59M5.45 -1.07L5.5 -.98M5 -1.61L5.05 -1.53M5.35 -1.01L5.4 -.92M5.15 -.14L5.09 -.35 5.24 -.61 5.45 -.66 5.52 -.45 5.37 -.19ZM5.05 -.2L4.98 -.41 5.13 -.67 5.35 -.72 5.41 -.51 5.26 -.25ZM5.5 -.75L5.45 -.66M5.15 -.14L5.1 -.06M5.4 -.81L5.35 -.72M5.05 -.2L5 -.12M5.45 .66L5.24 .61 5.09 .35 5.15 .14 5.37 .19 5.52 .45ZM5.35 .72L5.13 .67 4.98 .41 5.05 .2 5.26 .25 5.41 .51ZM5.1 .06L5.15 .14M5.45 .66L5.5 .75M5 .12L5.05 .2M5.35 .72L5.4 .81M5.15 1.59L5.09 1.38 5.24 1.12 5.45 1.07 5.52 1.28 5.37 1.54ZM5.05 1.53L4.98 1.32 5.13 1.06 5.35 1.01 5.41 1.22 5.26 1.48ZM5.5 .98L5.45 1.07M5.15 1.59L5.1 1.68M5.4 .92L5.35 1.01M5.05 1.53L5 1.61M5.45 2.39L5.24 2.34 5.09 2.08 5.15 1.87 5.37 1.92 5.52 2.18ZM5.35 2.46L5.13 2.41 4.98 2.15 5.05 1.94 5.26 1.99 5.41 2.25ZM5.1 1.79L5.15 1.87M5.45 2.39L5.5 2.48M5 1.85L5.05 1.94M5.35 2.46L5.4 2.54M5.15 3.32L5.09 3.11 5.24 2.85 5.45 2.8 5.52 3.01 5.37 3.27ZM5.05 3.26L4.98 3.05 5.13 2.79 5.35 2.74 5.41 2.95 5.26 3.21ZM5.5 2.72L5.45 2.8M5.15 3.32L5.1 3.41M5.4 2.65L5.35 2.74M5.05 3.26L5 3.35M-5.6 -2.6L-6 -2.6M-6.13 -2.69L-6 -2.6 -6.13 -2.51M-5.05 -3.55L-5.25 -3.9M-5.24 -4.06L-5.25 -3.9 -5.39 -3.97M-5.6 -.87L-6 -.87M-6.13 -.96L-6 -.87 -6.13 -.78M-5.6 .87L-6 .87M-6.13 .78L-6 .87 -6.13 .96M-5.05 3.55L-5.25 3.9M-5.39 3.97L-5.25 3.9 -5.24 4.06M-5.6 2.6L-6 2.6M-6.13 2.51L-6 2.6 -6.13 2.69M-3.55 -4.42L-3.75 -4.76M-3.74 -4.92L-3.75 -4.76 -3.89 -4.83M-3.55 4.42L-3.75 4.76M-3.89 4.83L-3.75 4.76 -3.74 4.92M-2.05 -5.28L-2.25 -5.63M-2.24 -5.79L-2.25 -5.63 -2.39 -5.7M-2.05 5.28L-2.25 5.63M-2.39 5.7L-2.25 5.63 -2.24 5.79M-.55 -6.15L-.75 -6.5M-.74 -6.65L-.75 -6.5 -.89 -6.56M.55 -6.15L.75 -6.5M.89 -6.56L.75 -6.5 .74 -6.65M.55 6.15L.75 6.5M.74 6.65L.75 6.5 .89 6.56M-.55 6.15L-.75 6.5M-.89 6.56L-.75 6.5 -.74 6.65M2.05 -5.28L2.25 -5.63M2.39 -5.7L2.25 -5.63 2.24 -5.79M2.05 5.28L2.25 5.63M2.24 5.79L2.25 5.63 2.39 5.7M3.55 -4.42L3.75 -4.76M3.89 -4.83L3.75 -4.76 3.74 -4.92M3.55 4.42L3.75 4.76M3.74 4.92L3.75 4.76 3.89 4.83M5.6 -2.6L6 -2.6M6.13 -2.51L6 -2.6 6.13 -2.69M5.05 -3.55L5.25 -3.9M5.39 -3.97L5.25 -3.9 5.24 -4.06M5.6 -.87L6 -.87M6.13 -.78L6 -.87 6.13 -.96M5.6 .87L6 .87M6.13 .96L6 .87 6.13 .78M5.6 2.6L6 2.6M6.13 2.69L6 2.6 6.13 2.51M5.05 3.55L5.25 3.9M5.24 4.06L5.25 3.9 5.39 3.97"/>
<path id="RB" d="M-2.71 -2.65L-2.85 -2.43 -3.15 -2.43 -3.29 -2.65 -3.15 -2.87 -2.85 -2.87ZM-2.71 -2.54L-2.85 -2.32 -3.15 -2.32 -3.29 -2.54 -3.15 -2.76 -2.85 -2.76ZM-3.4 -2.65L-3.29 -2.65M-2.71 -2.65L-2.6 -2.65M-3.4 -2.54L-3.29 -2.54M-2.71 -2.54L-2.6 -2.54M-3.85 -1.89L-3.97 -2.12 -3.82 -2.37 -3.56 -2.39 -3.44 -2.15 -3.58 -1.9ZM-3.94 -1.94L-4.06 -2.18 -3.92 -2.43 -3.65 -2.44 -3.53 -2.21 -3.68 -1.96ZM-3.5 -2.48L-3.56 -2.39M-3.85 -1.89L-3.9 -1.79M-3.6 -2.54L-3.65 -2.44M-3.94 -1.94L-4 -1.85M-3.94 -3.25L-3.68 -3.24 -3.53 -2.99 -3.65 -2.75 -3.92 -2.77 -4.06 -3.02ZM-3.85 -3.31L-3.58 -3.29 -3.44 -3.04 -3.56 -2.81 -3.82 -2.82 -3.97 -3.07ZM-3.6 -2.66L-3.65 -2.75M-3.94 -3.25L-4 -3.35M-3.5 -2.71L-3.56 -2.81M-3.85 -3.31L-3.9 -3.4M-3.56 -1.08L-3.82 -1.09 -3.97 -1.34 -3.85 -1.58 -3.58 -1.56 -3.44 -1.31ZM-3.65 -1.02L-3.92 -1.04 -4.06 -1.29 -3.94 -1.52 -3.68 -1.51 -3.53 -1.26ZM-3.9 -1.67L-3.85 -1.58M-3.56 -1.08L-3.5 -.98M-4 -1.62L-3.94 -1.52M-3.65 -1.02L-3.6 -.93M-4.79 -1.68L-4.65 -1.9 -4.36 -1.9 -4.21 -1.68 -4.35 -1.46 -4.64 -1.46ZM-4.79 -1.79L-4.65 -2.01 -4.36 -2.01 -4.21 -1.79 -4.35 -1.57 -4.64 -1.57ZM-4.1 -1.68L-4.21 -1.68M-4.79 -1.68L-4.9 -1.68M-4.1 -1.79L-4.21 -1.79M-4.79 -1.79L-4.9 -1.79M-5.35 -1.02L-5.47 -1.26 -5.32 -1.51 -5.06 -1.52 -4.94 -1.29 -5.08 -1.04ZM-5.44 -1.08L-5.56 -1.31 -5.42 -1.56 -5.15 -1.58 -5.03 -1.34 -5.18 -1.09ZM-5 -1.62L-5.06 -1.52M-5.35 -1.02L-5.4 -.93M-5.1 -1.67L-5.15 -1.58M-5.44 -1.08L-5.5 -.98M-5.44 -2.39L-5.18 -2.37 -5.03 -2.12 -5.15 -1.89 -5.42 -1.9 -5.56 -2.15ZM-5.35 -2.44L-5.08 -2.43 -4.94 -2.18 -5.06 -1.94 -5.32 -1.96 -5.47 -2.21ZM-5.1 -1.79L-5.15 -1.89M-5.44 -2.39L-5.5 -2.48M-5 -1.85L-5.06 -1.94M-5.35 -2.44L-5.4 -2.54M-5.15 -3.31L-5.03 -3.07 -5.18 -2.82 -5.44 -2.81 -5.56 -3.04 -5.42 -3.29ZM-5.06 -3.25L-4.94 -3.02 -5.08 -2.77 -5.35 -2.75 -5.47 -2.99 -5.32 -3.24ZM-5.5 -2.71L-5.44 -2.81M-5.15 -3.31L-5.1 -3.4M-5.4 -2.66L-5.35 -2.75M-5.06 -3.25L-5 -3.35M-4.21 -3.52L-4.36 -3.3 -4.64 -3.3 -4.79 -3.52 -4.65 -3.74 -4.36 -3.74ZM-4.21 -3.41L-4.36 -3.19 -4.64 -3.19 -4.79 -3.41 -4.65 -3.63 -4.36 -3.63ZM-4.9 -3.52L-4.79 -3.52M-4.21 -3.52L-4.1 -3.52M-4.9 -3.41L-4.79 -3.41M-4.21 -3.41L-4.1 -3.41M-3.65 -4.18L-3.53 -3.94 -3.68 -3.69 -3.94 -3.67 -4.06 -3.91 -3.92 -4.16ZM-3.56 -4.12L-3.44 -3.88 -3.58 -3.63 -3.85 -3.62 -3.97 -3.85 -3.82 -4.11ZM-4 -3.58L-3.94 -3.67M-3.65 -4.18L-3.6 -4.27M-3.9 -3.52L-3.85 -3.62M-3.56 -4.12L-3.5 -4.22M-2.71 -.92L-2.85 -.7 -3.15 -.7 -3.29 -.92 -3.15 -1.14 -2.85 -1.14ZM-2.71 -.81L-2.85 -.59 -3.15 -.59 -3.29 -.81 -3.15 -1.03 -2.85 -1.03ZM-3.4 -.92L-3.29 -.92M-2.71 -.92L-2.6 -.92M-3.4 -.81L-3.29 -.81M-2.71 -.81L-2.6 -.81M-3.85 -.15L-3.97 -.39 -3.82 -.64 -3.56 -.66 -3.44 -.42 -3.58 -.17ZM-3.94 -.21L-4.06 -.45 -3.92 -.7 -3.65 -.71 -3.53 -.48 -3.68 -.22ZM-3.5 -.75L-3.56 -.66M-3.85 -.15L-3.9 -.06M-3.6 -.81L-3.65 -.71M-3.94 -.21L-4 -.11M-3.56 .66L-3.82 .64 -3.97 .39 -3.85 .15 -3.58 .17 -3.44 .42ZM-3.65 .71L-3.92 .7 -4.06 .45 -3.94 .21 -3.68 .22 -3.53 .48ZM-3.9 .06L-3.85 .15M-3.56 .66L-3.5 .75M-4 .11L-3.94 .21M-3.65 .71L-3.6 .81M-4.79 .05L-4.65 -.17 -4.36 -.17 -4.21 .05 -4.35 .28 -4.64 .28ZM-4.79 -.06L-4.65 -.28 -4.36 -.28 -4.21 -.06 -4.35 .17 -4.64 .17ZM-4.1 .05L-4.21 .05M-4.79 .05L-4.9 .05M-4.1 -.06L-4.21 -.06M-4.79 -.06L-4.9 -.06M-5.35 .71L-5.47 .48 -5.32 .22 -5.06 .21 -4.94 .45 -5.08 .7ZM-5.44 .66L-5.56 .42 -5.42 .17 -5.15 .15 -5.03 .39 -5.18 .64ZM-5 .11L-5.06 .21M-5.35 .71L-5.4 .81M-5.1 .06L-5.15 .15M-5.44 .66L-5.5 .75M-5.44 -.66L-5.18 -.64 -5.03 -.39 -5.15 -.15 -5.42 -.17 -5.56 -.42ZM-5.35 -.71L-5.08 -.7 -4.94 -.45 -5.06 -.21 -5.32 -.22 -5.47 -.48ZM-5.1 -.06L-5.15 -.15M-5.44 -.66L-5.5 -.75M-5 -.11L-5.06 -.21M-5.35 -.71L-5.4 -.81M-2.71 .81L-2.85 1.03 -3.15 1.03 -3.29 .81 -3.15 .59 -2.85 .59ZM-2.71 .92L-2.85 1.14 -3.15 1.14 -3.29 .92 -3.15 .7 -2.85 .7ZM-3.4 .81L-3.29 .81M-2.71 .81L-2.6 .81M-3.4 .92L-3.29 .92M-2.71 .92L-2.6 .92M-3.85 1.58L-3.97 1.34 -3.82 1.09 -3.56 1.08 -3.44 1.31 -3.58 1.56ZM-3.94 1.52L-4.06 1.29 -3.92 1.04 -3.65 1.02 -3.53 1.26 -3.68 1.51ZM-3.5 .98L-3.56 1.08M-3.85 1.58L-3.9 1.67M-3.6 .93L-3.65 1.02M-3.94 1.52L-4 1.62M-3.56 2.39L-3.82 2.37 -3.97 2.12 -3.85 1.89 -3.58 1.9 -3.44 2.15ZM-3.65 2.44L-3.92 2.43 -4.06 2.18 -3.94 1.94 -3.68 1.96 -3.53 2.21ZM-3.9 1.79L-3.85 1.89M-3.56 2.39L-3.5 2.48M-4 1.85L-3.94 1.94M-3.65 2.44L-3.6 2.54M-4.79 1.79L-4.65 1.57 -4.36 1.57 -4.21 1.79 -4.35 2.01 -4.64 2.01ZM-4.79 1.68L-4.65 1.46 -4.36 1.46 -4.21 1.68 -4.35 1.9 -4.64 1.9ZM-4.1 1.79L-4.21 1.79M-4.79 1.79L-4.9 1.79M-4.1 1.68L-4.21 1.68M-4.79 1.68L-4.9 1.68M-5.35 2.44L-5.47 2.21 -5.32 1.96 -5.06 1.94 -4.94 2.18 -5.08 2.43ZM-5.44 2.39L-5.56 2.15 -5.42 1.9 -5.15 1.89 -5.03 2.12 -5.18 2.37ZM-5 1.85L-5.06 1.94M-5.35 2.44L-5.4 2.54M-5.1 1.79L-5.15 1.89M-5.44 2.39L-5.5 2.48M-5.44 1.08L-5.18 1.09 -5.03 1.34 -5.15 1.58 -5.42 1.56 -5.56 1.31ZM-5.35 1.02L-5.08 1.04 -4.94 1.29 -5.06 1.52 -5.32 1.51 -5.47 1.26ZM-5.1 1.67L-5.15 1.58M-5.44 1.08L-5.5 .98M-5 1.62L-5.06 1.52M-5.35 1.02L-5.4 .93M-2.71 2.54L-2.85 2.76 -3.15 2.76 -3.29 2.54 -3.15 2.32 -2.85 2.32ZM-2.71 2.65L-2.85 2.87 -3.15 2.87 -3.29 2.65 -3.15 2.43 -2.85 2.43ZM-3.4 2.54L-3.29 2.54M-2.71 2.54L-2.6 2.54M-3.4 2.65L-3.29 2.65M-2.71 2.65L-2.6 2.65M-3.85 3.31L-3.97 3.07 -3.82 2.82 -3.56 2.81 -3.44 3.04 -3.58 3.29ZM-3.94 3.25L-4.06 3.02 -3.92 2.77 -3.65 2.75 -3.53 2.99 -3.68 3.24ZM-3.5 2.71L-3.56 2.81M-3.85 3.31L-3.9 3.4M-3.6 2.66L-3.65 2.75M-3.94 3.25L-4 3.35M-3.56 4.12L-3.82 4.11 -3.97 3.85 -3.85 3.62 -3.58 3.63 -3.44 3.88ZM-3.65 4.18L-3.92 4.16 -4.06 3.91 -3.94 3.67 -3.68 3.69 -3.53 3.94ZM-3.9 3.52L-3.85 3.62M-3.56 4.12L-3.5 4.22M-4 3.58L-3.94 3.67M-3.65 4.18L-3.6 4.27M-4.79 3.52L-4.64 3.3 -4.36 3.3 -4.21 3.52 -4.35 3.74 -4.64 3.74ZM-4.79 3.41L-4.64 3.19 -4.36 3.19 -4.21 3.41 -4.35 3.63 -4.64 3.63ZM-4.1 3.52L-4.21 3.52M-4.79 3.52L-4.9 3.52M-4.1 3.41L-4.21 3.41M-4.79 3.41L-4.9 3.41M-5.44 2.81L-5.18 2.82 -5.03 3.07 -5.15 3.31 -5.42 3.29 -5.56 3.04ZM-5.35 2.75L-5.08 2.77 -4.94 3.02 -5.06 3.25 -5.32 3.24 -5.47 2.99ZM-5.1 3.4L-5.15 3.31M-5.44 2.81L-5.5 2.71M-5 3.35L-5.06 3.25M-5.35 2.75L-5.4 2.66M-1.21 -3.52L-1.35 -3.3 -1.65 -3.3 -1.79 -3.52 -1.65 -3.74 -1.35 -3.74ZM-1.21 -3.41L-1.35 -3.19 -1.65 -3.19 -1.79 -3.41 -1.65 -3.63 -1.35 -3.63ZM-1.9 -3.52L-1.79 -3.52M-1.21 -3.52L-1.1 -3.52M-1.9 -3.41L-1.79 -3.41M-1.21 -3.41L-1.1 -3.41M-2.35 -2.75L-2.47 -2.99 -2.32 -3.24 -2.06 -3.25 -1.94 -3.02 -2.08 -2.77ZM-2.44 -2.81L-2.56 -3.04 -2.42 -3.29 -2.15 -3.31 -2.03 -3.07 -2.18 -2.82ZM-2 -3.35L-2.06 -3.25M-2.35 -2.75L-2.4 -2.66M-2.1 -3.4L-2.15 -3.31M-2.44 -2.81L-2.5 -2.71M-2.44 -4.12L-2.18 -4.11 -2.03 -3.85 -2.15 -3.62 -2.42 -3.63 -2.56 -3.88ZM-2.35 -4.18L-2.08 -4.16 -1.94 -3.91 -2.06 -3.67 -2.32 -3.69 -2.47 -3.94ZM-2.1 -3.52L-2.15 -3.62M-2.44 -4.12L-2.5 -4.22M-2 -3.58L-2.06 -3.67M-2.35 -4.18L-2.4 -4.27M-2.06 -1.94L-2.32 -1.96 -2.47 -2.21 -2.35 -2.44 -2.08 -2.43 -1.94 -2.18ZM-2.15 -1.89L-2.42 -1.9 -2.56 -2.15 -2.44 -2.39 -2.18 -2.37 -2.03 -2.12ZM-2.4 -2.54L-2.35 -2.44M-2.06 -1.94L-2 -1.85M-2.5 -2.48L-2.44 -2.39M-2.15 -1.89L-2.1 -1.79M-2.71 -4.39L-2.86 -4.16 -3.15 -4.16 -3.29 -4.39 -3.15 -4.61 -2.86 -4.61ZM-2.71 -4.28L-2.86 -4.05 -3.15 -4.05 -3.29 -4.28 -3.15 -4.5 -2.86 -4.5ZM-3.4 -4.39L-3.29 -4.39M-2.71 -4.39L-2.6 -4.39M-3.4 -4.28L-3.29 -4.28M-2.71 -4.28L-2.6 -4.28M-2.15 -5.04L-2.03 -4.81 -2.18 -4.55 -2.44 -4.54 -2.56 -4.78 -2.42 -5.03ZM-2.06 -4.99L-1.94 -4.75 -2.08 -4.5 -2.35 -4.48 -2.47 -4.72 -2.32 -4.97ZM-2.5 -4.44L-2.44 -4.54M-2.15 -5.04L-2.1 -5.14M-2.4 -4.39L-2.35 -4.48M-2.06 -4.99L-2 -5.08M-1.21 -1.79L-1.35 -1.57 -1.65 -1.57 -1.79 -1.79 -1.65 -2.01 -1.35 -2.01ZM-1.21 -1.68L-1.35 -1.46 -1.65 -1.46 -1.79 -1.68 -1.65 -1.9 -1.35 -1.9ZM-1.9 -1.79L-1.79 -1.79M-1.21 -1.79L-1.1 -1.79M-1.9 -1.68L-1.79 -1.68M-1.21 -1.68L-1.1 -1.68M-2.35 -1.02L-2.47 -1.26 -2.32 -1.51 -2.06 -1.52 -1.94 -1.29 -2.08 -1.04ZM-2.44 -1.08L-2.56 -1.31 -2.42 -1.56 -2.15 -1.58 -2.03 -1.34 -2.18 -1.09ZM-2 -1.62L-2.06 -1.52M-2.35 -1.02L-2.4 -.93M-2.1 -1.67L-2.15 -1.58M-2.44 -1.08L-2.5 -.98M-2.06 -.21L-2.32 -.22 -2.47 -.48 -2.35 -.71 -2.08 -.7 -1.94 -.45ZM-2.15 -.15L-2.42 -.17 -2.56 -.42 -2.44 -.66 -2.18 -.64 -2.03 -.39ZM-2.4 -.81L-2.35 -.71M-2.06 -.21L-2 -.11M-2.5 -.75L-2.44 -.66M-2.15 -.15L-2.1 -.06M-1.21 -.06L-1.35 .17 -1.65 .17 -1.79 -.05 -1.65 -.28 -1.35 -.28ZM-1.21 .06L-1.35 .28 -1.65 .28 -1.79 .06 -1.65 -.17 -1.35 -.17ZM-1.9 -.06L-1.79 -.06M-1.21 -.06L-1.1 -.06M-1.9 .06L-1.79 .06M-1.21 .06L-1.1 .06M-2.35 .71L-2.47 .48 -2.32 .22 -2.06 .21 -1.94 .45 -2.08 .7ZM-2.44 .66L-2.56 .42 -2.42 .17 -2.15 .15 -2.03 .39 -2.18 .64ZM-2 .11L-2.06 .21M-2.35 .71L-2.4 .81M-2.1 .06L-2.15 .15M-2.44 .66L-2.5 .75M-2.06 1.52L-2.32 1.51 -2.47 1.26 -2.35 1.02 -2.08 1.04 -1.94 1.29ZM-2.15 1.58L-2.42 1.56 -2.56 1.31 -2.44 1.08 -2.18 1.09 -2.03 1.34ZM-2.4 .93L-2.35 1.02M-2.06 1.52L-2 1.62M-2.5 .98L-2.44 1.08M-2.15 1.58L-2.1 1.67M-1.21 1.68L-1.35 1.9 -1.65 1.9 -1.79 1.68 -1.65 1.46 -1.35 1.46ZM-1.21 1.79L-1.35 2.01 -1.65 2.01 -1.79 1.79 -1.65 1.57 -1.35 1.57ZM-1.9 1.68L-1.79 1.68M-1.21 1.68L-1.1 1.68M-1.9 1.79L-1.79 1.79M-1.21 1.79L-1.1 1.79M-2.35 2.44L-2.47 2.21 -2.32 1.96 -2.06 1.94 -1.94 2.18 -2.08 2.43ZM-2.44 2.39L-2.56 2.15 -2.42 1.9 -2.15 1.89 -2.03 2.12 -2.18 2.37ZM-2 1.85L-2.06 1.94M-2.35 2.44L-2.4 2.54M-2.1 1.79L-2.15 1.89M-2.44 2.39L-2.5 2.48M-2.06 3.25L-2.32 3.24 -2.47 2.99 -2.35 2.75 -2.08 2.77 -1.94 3.02ZM-2.15 3.31L-2.42 3.29 -2.56 3.04 -2.44 2.81 -2.18 2.82 -2.03 3.07ZM-2.4 2.66L-2.35 2.75M-2.06 3.25L-2 3.35M-2.5 2.71L-2.44 2.81M-2.15 3.31L-2.1 3.4M-1.21 3.41L-1.35 3.63 -1.65 3.63 -1.79 3.41 -1.65 3.19 -1.35 3.19ZM-1.21 3.52L-1.35 3.74 -1.65 3.74 -1.79 3.52 -1.65 3.3 -1.35 3.3ZM-1.9 3.41L-1.79 3.41M-1.21 3.41L-1.1 3.41M-1.9 3.52L-1.79 3.52M-1.21 3.52L-1.1 3.52M-2.35 4.18L-2.47 3.94 -2.32 3.69 -2.06 3.67 -1.94 3.91 -2.08 4.16ZM-2.44 4.12L-2.56 3.88 -2.42 3.63 -2.15 3.62 -2.03 3.85 -2.18 4.11ZM-2 3.58L-2.06 3.67M-2.35 4.18L-2.4 4.27M-2.1 3.52L-2.15 3.62M-2.44 4.12L-2.5 4.22M-2.06 4.99L-2.32 4.97 -2.47 4.72 -2.35 4.48 -2.08 4.5 -1.94 4.75ZM-2.15 5.04L-2.42 5.03 -2.56 4.78 -2.44 4.54 -2.18 4.55 -2.03 4.81ZM-2.4 4.39L-2.35 4.48M-2.06 4.99L-2 5.08M-2.5 4.44L-2.44 4.54M-2.15 5.04L-2.1 5.14M-3.29 4.39L-3.15 4.16 -2.85 4.16 -2.71 4.39 -2.85 4.61 -3.15 4.61ZM-3.29 4.28L-3.15 4.05 -2.85 4.05 -2.71 4.28 -2.85 4.5 -3.15 4.5ZM-2.6 4.39L-2.71 4.39M-3.29 4.39L-3.4 4.39M-2.6 4.28L-2.71 4.28M-3.29 4.28L-3.4 4.28M.29 -4.39L.15 -4.16 -.14 -4.16 -.29 -4.39 -.15 -4.61 .15 -4.61ZM.29 -4.28L.15 -4.05 -.14 -4.05 -.29 -4.28 -.15 -4.5 .15 -4.5ZM-.4 -4.39L-.29 -4.39M.29 -4.39L.4 -4.39M-.4 -4.28L-.29 -4.28M.29 -4.28L.4 -4.28M-.85 -3.62L-.97 -3.85 -.82 -4.11 -.56 -4.12 -.44 -3.88 -.58 -3.63ZM-.94 -3.67L-1.06 -3.91 -.92 -4.16 -.65 -4.18 -.53 -3.94 -.68 -3.69ZM-.5 -4.22L-.56 -4.12M-.85 -3.62L-.9 -3.52M-.6 -4.27L-.65 -4.18M-.94 -3.67L-1 -3.58M-.94 -4.99L-.68 -4.97 -.53 -4.72 -.65 -4.48 -.92 -4.5 -1.06 -4.75ZM-.85 -5.04L-.58 -5.03 -.44 -4.78 -.56 -4.54 -.82 -4.55 -.97 -4.81ZM-.6 -4.39L-.65 -4.48M-.94 -4.99L-1 -5.08M-.5 -4.44L-.56 -4.54M-.85 -5.04L-.9 -5.14M-.56 -2.81L-.82 -2.82 -.97 -3.07 -.85 -3.31 -.58 -3.29 -.44 -3.04ZM-.65 -2.75L-.92 -2.77 -1.06 -3.02 -.94 -3.25 -.68 -3.24 -.53 -2.99ZM-.9 -3.4L-.85 -3.31M-.56 -2.81L-.5 -2.71M-1 -3.35L-.94 -3.25M-.65 -2.75L-.6 -2.66M-1.21 -5.25L-1.36 -5.03 -1.65 -5.03 -1.79 -5.25 -1.65 -5.47 -1.36 -5.47ZM-1.21 -5.14L-1.36 -4.92 -1.65 -4.92 -1.79 -5.14 -1.65 -5.36 -1.36 -5.36ZM-1.9 -5.25L-1.79 -5.25M-1.21 -5.25L-1.1 -5.25M-1.9 -5.14L-1.79 -5.14M-1.21 -5.14L-1.1 -5.14M-.65 -5.91L-.53 -5.67 -.68 -5.42 -.94 -5.41 -1.06 -5.64 -.92 -5.89ZM-.56 -5.85L-.44 -5.62 -.58 -5.37 -.85 -5.35 -.97 -5.59 -.82 -5.84ZM-1 -5.31L-.94 -5.41M-.65 -5.91L-.6 -6M-.9 -5.26L-.85 -5.35M-.56 -5.85L-.5 -5.95M.29 -2.65L.15 -2.43 -.14 -2.43 -.29 -2.65 -.15 -2.87 .15 -2.87ZM.29 -2.54L.15 -2.32 -.14 -2.32 -.29 -2.54 -.15 -2.76 .15 -2.76ZM-.4 -2.65L-.29 -2.65M.29 -2.65L.4 -2.65M-.4 -2.54L-.29 -2.54M.29 -2.54L.4 -2.54M-.85 -1.89L-.97 -2.12 -.82 -2.37 -.56 -2.39 -.44 -2.15 -.58 -1.9ZM-.94 -1.94L-1.06 -2.18 -.92 -2.43 -.65 -2.44 -.53 -2.21 -.68 -1.96ZM-.5 -2.48L-.56 -2.39M-.85 -1.89L-.9 -1.79M-.6 -2.54L-.65 -2.44M-.94 -1.94L-1 -1.85M-.56 -1.08L-.82 -1.09 -.97 -1.34 -.85 -1.58 -.58 -1.56 -.44 -1.31ZM-.65 -1.02L-.92 -1.04 -1.06 -1.29 -.94 -1.52 -.68 -1.51 -.53 -1.26ZM-.9 -1.67L-.85 -1.58M-.56 -1.08L-.5 -.98M-1 -1.62L-.94 -1.52M-.65 -1.02L-.6 -.93M.29 -.92L.15 -.7 -.14 -.7 -.29 -.92 -.15 -1.14 .15 -1.14ZM.29 -.81L.15 -.59 -.14 -.59 -.29 -.81 -.15 -1.03 .15 -1.03ZM-.4 -.92L-.29 -.92M.29 -.92L.4 -.92M-.4 -.81L-.29 -.81M.29 -.81L.4 -.81M-.85 -.15L-.97 -.39 -.82 -.64 -.56 -.66 -.44 -.42 -.58 -.17ZM-.94 -.21L-1.06 -.45 -.92 -.7 -.65 -.71 -.53 -.48 -.68 -.22ZM-.5 -.75L-.56 -.66M-.85 -.15L-.9 -.06M-.6 -.81L-.65 -.71M-.94 -.21L-1 -.11M-.56 .66L-.82 .64 -.97 .39 -.85 .15 -.58 .17 -.44 .42ZM-.65 .71L-.92 .7 -1.06 .45 -.94 .21 -.68 .22 -.53 .48ZM-.9 .06L-.85 .15M-.56 .66L-.5 .75M-1 .11L-.94 .21M-.65 .71L-.6 .81M.29 .81L.15 1.03 -.14 1.03 -.29 .81 -.15 .59 .15 .59ZM.29 .92L.15 1.14 -.14 1.14 -.29 .92 -.15 .7 .15 .7ZM-.4 .81L-.29 .81M.29 .81L.4 .81M-.4 .92L-.29 .92M.29 .92L.4 .92M-.85 1.58L-.97 1.34 -.82 1.09 -.56 1.08 -.44 1.31 -.58 1.56ZM-.94 1.52L-1.06 1.29 -.92 1.04 -.65 1.02 -.53 1.26 -.68 1.51ZM-.5 .98L-.56 1.08M-.85 1.58L-.9 1.67M-.6 .93L-.65 1.02M-.94 1.52L-1 1.62M-.56 2.39L-.82 2.37 -.97 2.12 -.85 1.89 -.58 1.9 -.44 2.15ZM-.65 2.44L-.92 2.43 -1.06 2.18 -.94 1.94 -.68 1.96 -.53 2.21ZM-.9 1.79L-.85 1.89M-.56 2.39L-.5 2.48M-1 1.85L-.94 1.94M-.65 2.44L-.6 2.54M.29 2.54L.15 2.76 -.14 2.76 -.29 2.54 -.15 2.32 .15 2.32ZM.29 2.65L.15 2.87 -.14 2.87 -.29 2.65 -.15 2.43 .15 2.43ZM-.4 2.54L-.29 2.54M.29 2.54L.4 2.54M-.4 2.65L-.29 2.65M.29 2.65L.4 2.65M-.85 3.31L-.97 3.07 -.82 2.82 -.56 2.81 -.44 3.04 -.58 3.29ZM-.94 3.25L-1.06 3.02 -.92 2.77 -.65 2.75 -.53 2.99 -.68 3.24ZM-.5 2.71L-.56 2.81M-.85 3.31L-.9 3.4M-.6 2.66L-.65 2.75M-.94 3.25L-1 3.35M-.56 4.12L-.82 4.11 -.97 3.85 -.85 3.62 -.58 3.63 -.44 3.88ZM-.65 4.18L-.92 4.16 -1.06 3.91 -.94 3.67 -.68 3.69 -.53 3.94ZM-.9 3.52L-.85 3.62M-.56 4.12L-.5 4.22M-1 3.58L-.94 3.67M-.65 4.18L-.6 4.27M.29 4.28L.15 4.5 -.14 4.5 -.29 4.28 -.15 4.05 .15 4.05ZM.29 4.39L.15 4.61 -.14 4.61 -.29 4.39 -.15 4.16 .15 4.16ZM-.4 4.28L-.29 4.28M.29 4.28L.4 4.28M-.4 4.39L-.29 4.39M.29 4.39L.4 4.39M-.85 5.04L-.97 4.81 -.82 4.55 -.56 4.54 -.44 4.78 -.58 5.03ZM-.94 4.99L-1.06 4.75 -.92 4.5 -.65 4.48 -.53 4.72 -.68 4.97ZM-.5 4.44L-.56 4.54M-.85 5.04L-.9 5.14M-.6 4.39L-.65 4.48M-.94 4.99L-1 5.08M-.56 5.85L-.82 5.84 -.97 5.59 -.85 5.35 -.58 5.37 -.44 5.62ZM-.65 5.91L-.92 5.89 -1.06 5.64 -.94 5.41 -.68 5.42 -.53 5.67ZM-.9 5.26L-.85 5.35M-.56 5.85L-.5 5.95M-1 5.31L-.94 5.41M-.65 5.91L-.6 6M-1.79 5.25L-1.65 5.03 -1.35 5.03 -1.21 5.25 -1.35 5.47 -1.65 5.47ZM-1.79 5.14L-1.65 4.92 -1.35 4.92 -1.21 5.14 -1.35 5.36 -1.65 5.36ZM-1.1 5.25L-1.21 5.25M-1.79 5.25L-1.9 5.25M-1.1 5.14L-1.21 5.14M-1.79 5.14L-1.9 5.14M1.79 -5.25L1.65 -5.03 1.35 -5.03 1.21 -5.25 1.35 -5.47 1.65 -5.47ZM1.79 -5.14L1.65 -4.92 1.35 -4.92 1.21 -5.14 1.35 -5.36 1.65 -5.36ZM1.1 -5.25L1.21 -5.25M1.79 -5.25L1.9 -5.25M1.1 -5.14L1.21 -5.14M1.79 -5.14L1.9 -5.14M.65 -4.48L.53 -4.72 .68 -4.97 .94 -4.99 1.06 -4.75 .92 -4.5ZM.56 -4.54L.44 -4.78 .58 -5.03 .85 -5.04 .97 -4.81 .82 -4.55ZM1 -5.08L.94 -4.99M.65 -4.48L.6 -4.39M.9 -5.14L.85 -5.04M.56 -4.54L.5 -4.44M.56 -5.85L.82 -5.84 .97 -5.59 .85 -5.35 .58 -5.37 .44 -5.62ZM.65 -5.91L.92 -5.89 1.06 -5.64 .94 -5.41 .68 -5.42 .53 -5.67ZM.9 -5.26L.85 -5.35M.56 -5.85L.5 -5.95M1 -5.31L.94 -5.41M.65 -5.91L.6 -6M.94 -3.67L.68 -3.69 .53 -3.94 .65 -4.18 .92 -4.16 1.06 -3.91ZM.85 -3.62L.58 -3.63 .44 -3.88 .56 -4.12 .82 -4.11 .97 -3.85ZM.6 -4.27L.65 -4.18M.94 -3.67L1 -3.58M.5 -4.22L.56 -4.12M.85 -3.62L.9 -3.52M.29 -6.12L.14 -5.9 -.15 -5.9 -.29 -6.12 -.15 -6.34 .14 -6.34ZM.29 -6.01L.14 -5.79 -.15 -5.79 -.29 -6.01 -.15 -6.23 .14 -6.23ZM-.4 -6.12L-.29 -6.12M.29 -6.12L.4 -6.12M-.4 -6.01L-.29 -6.01M.29 -6.01L.4 -6.01M1.79 -3.52L1.65 -3.3 1.35 -3.3 1.21 -3.52 1.35 -3.74 1.65 -3.74ZM1.79 -3.41L1.65 -3.19 1.35 -3.19 1.21 -3.41 1.35 -3.63 1.65 -3.63ZM1.1 -3.52L1.21 -3.52M1.79 -3.52L1.9 -3.52M1.1 -3.41L1.21 -3.41M1.79 -3.41L1.9 -3.41M.65 -2.75L.53 -2.99 .68 -3.24 .94 -3.25 1.06 -3.02 .92 -2.77ZM.56 -2.81L.44 -3.04 .58 -3.29 .85 -3.31 .97 -3.07 .82 -2.82ZM1 -3.35L.94 -3.25M.65 -2.75L.6 -2.66M.9 -3.4L.85 -3.31M.56 -2.81L.5 -2.71M.94 -1.94L.68 -1.96 .53 -2.21 .65 -2.44 .92 -2.43 1.06 -2.18ZM.85 -1.89L.58 -1.9 .44 -2.15 .56 -2.39 .82 -2.37 .97 -2.12ZM.6 -2.54L.65 -2.44M.94 -1.94L1 -1.85M.5 -2.48L.56 -2.39M.85 -1.89L.9 -1.79M1.79 -1.79L1.65 -1.57 1.35 -1.57 1.21 -1.79 1.35 -2.01 1.65 -2.01ZM1.79 -1.68L1.65 -1.46 1.35 -1.46 1.21 -1.68 1.35 -1.9 1.65 -1.9ZM1.1 -1.79L1.21 -1.79M1.79 -1.79L1.9 -1.79M1.1 -1.68L1.21 -1.68M1.79 -1.68L1.9 -1.68M.65 -1.02L.53 -1.26 .68 -1.51 .94 -1.52 1.06 -1.29 .92 -1.04ZM.56 -1.08L.44 -1.31 .58 -1.56 .85 -1.58 .97 -1.34 .82 -1.09ZM1 -1.62L.94 -1.52M.65 -1.02L.6 -.93M.9 -1.67L.85 -1.58M.56 -1.08L.5 -.98M.94 -.21L.68 -.22 .53 -.48 .65 -.71 .92 -.7 1.06 -.45ZM.85 -.15L.58 -.17 .44 -.42 .56 -.66 .82 -.64 .97 -.39ZM.6 -.81L.65 -.71M.94 -.21L1 -.11M.5 -.75L.56 -.66M.85 -.15L.9 -.06M1.79 -.06L1.65 .17 1.35 .17 1.21 -.05 1.35 -.28 1.65 -.28ZM1.79 .06L1.65 .28 1.35 .28 1.21 .06 1.35 -.17 1.65 -.17ZM1.1 -.06L1.21 -.06M1.79 -.06L1.9 -.06M1.1 .06L1.21 .06M1.79 .06L1.9 .06M.65 .71L.53 .48 .68 .22 .94 .21 1.06 .45 .92 .7ZM.56 .66L.44 .42 .58 .17 .85 .15 .97 .39 .82 .64ZM1 .11L.94 .21M.65 .71L.6 .81M.9 .06L.85 .15M.56 .66L.5 .75M.94 1.52L.68 1.51 .53 1.26 .65 1.02 .92 1.04 1.06 1.29ZM.85 1.58L.58 1.56 .44 1.31 .56 1.08 .82 1.09 .97 1.34ZM.6 .93L.65 1.02M.94 1.52L1 1.62M.5 .98L.56 1.08M.85 1.58L.9 1.67M1.79 1.68L1.65 1.9 1.35 1.9 1.21 1.68 1.35 1.46 1.65 1.46ZM1.79 1.79L1.65 2.01 1.35 2.01 1.21 1.79 1.35 1.57 1.65 1.57ZM1.1 1.68L1.21 1.68M1.79 1.68L1.9 1.68M1.1 1.79L1.21 1.79M1.79 1.79L1.9 1.79M.65 2.44L.53 2.21 .68 1.96 .94 1.94 1.06 2.18 .92 2.43ZM.56 2.39L.44 2.15 .58 1.9 .85 1.89 .97 2.12 .82 2.37ZM1 1.85L.94 1.94M.65 2.44L.6 2.54M.9 1.79L.85 1.89M.56 2.39L.5 2.48M.94 3.25L.68 3.24 .53 2.99 .65 2.75 .92 2.77 1.06 3.02ZM.85 3.31L.58 3.29 .44 3.04 .56 2.81 .82 2.82 .97 3.07ZM.6 2.66L.65 2.75M.94 3.25L1 3.35M.5 2.71L.56 2.81M.85 3.31L.9 3.4M1.79 3.41L1.65 3.63 1.35 3.63 1.21 3.41 1.35 3.19 1.65 3.19ZM1.79 3.52L1.65 3.74 1.35 3.74 1.21 3.52 1.35 3.3 1.65 3.3ZM1.1 3.41L1.21 3.41M1.79 3.41L1.9 3.41M1.1 3.52L1.21 3.52M1.79 3.52L1.9 3.52M.65 4.18L.53 3.94 .68 3.69 .94 3.67 1.06 3.91 .92 4.16ZM.56 4.12L.44 3.88 .58 3.63 .85 3.62 .97 3.85 .82 4.11ZM1 3.58L.94 3.67M.65 4.18L.6 4.27M.9 3.52L.85 3.62M.56 4.12L.5 4.22M.94 4.99L.68 4.97 .53 4.72 .65 4.48 .92 4.5 1.06 4.75ZM.85 5.04L.58 5.03 .44 4.78 .56 4.54 .82 4.55 .97 4.81ZM.6 4.39L.65 4.48M.94 4.99L1 5.08M.5 4.44L.56 4.54M.85 5.04L.9 5.14M1.79 5.14L1.65 5.36 1.35 5.36 1.21 5.14 1.35 4.92 1.65 4.92ZM1.79 5.25L1.65 5.47 1.35 5.47 1.21 5.25 1.35 5.03 1.65 5.03ZM1.1 5.14L1.21 5.14M1.79 5.14L1.9 5.14M1.1 5.25L1.21 5.25M1.79 5.25L1.9 5.25M.65 5.91L.53 5.67 .68 5.42 .94 5.41 1.06 5.64 .92 5.89ZM.56 5.85L.44 5.62 .58 5.37 .85 5.35 .97 5.59 .82 5.84ZM1 5.31L.94 5.41M.65 5.91L.6 6M.9 5.26L.85 5.35M.56 5.85L.5 5.95M-.29 6.12L-.14 5.9 .15 5.9 .29 6.12 .15 6.34 -.14 6.34ZM-.29 6.01L-.14 5.79 .15 5.79 .29 6.01 .15 6.23 -.14 6.23ZM.4 6.12L.29 6.12M-.29 6.12L-.4 6.12M.4 6.01L.29 6.01M-.29 6.01L-.4 6.01M3.29 -4.39L3.15 -4.16 2.85 -4.16 2.71 -4.39 2.85 -4.61 3.15 -4.61ZM3.29 -4.28L3.15 -4.05 2.85 -4.05 2.71 -4.28 2.85 -4.5 3.15 -4.5ZM2.6 -4.39L2.71 -4.39M3.29 -4.39L3.4 -4.39M2.6 -4.28L2.71 -4.28M3.29 -4.28L3.4 -4.28M2.15 -3.62L2.03 -3.85 2.18 -4.11 2.44 -4.12 2.56 -3.88 2.42 -3.63ZM2.06 -3.67L1.94 -3.91 2.08 -4.16 2.35 -4.18 2.47 -3.94 2.32 -3.69ZM2.5 -4.22L2.44 -4.12M2.15 -3.62L2.1 -3.52M2.4 -4.27L2.35 -4.18M2.06 -3.67L2 -3.58M2.06 -4.99L2.32 -4.97 2.47 -4.72 2.35 -4.48 2.08 -4.5 1.94 -4.75ZM2.15 -5.04L2.42 -5.03 2.56 -4.78 2.44 -4.54 2.18 -4.55 2.03 -4.81ZM2.4 -4.39L2.35 -4.48M2.06 -4.99L2 -5.08M2.5 -4.44L2.44 -4.54M2.15 -5.04L2.1 -5.14M2.44 -2.81L2.18 -2.82 2.03 -3.07 2.15 -3.31 2.42 -3.29 2.56 -3.04ZM2.35 -2.75L2.08 -2.77 1.94 -3.02 2.06 -3.25 2.32 -3.24 2.47 -2.99ZM2.1 -3.4L2.15 -3.31M2.44 -2.81L2.5 -2.71M2 -3.35L2.06 -3.25M2.35 -2.75L2.4 -2.66M3.29 -2.65L3.15 -2.43 2.85 -2.43 2.71 -2.65 2.85 -2.87 3.15 -2.87ZM3.29 -2.54L3.15 -2.32 2.85 -2.32 2.71 -2.54 2.85 -2.76 3.15 -2.76ZM2.6 -2.65L2.71 -2.65M3.29 -2.65L3.4 -2.65M2.6 -2.54L2.71 -2.54M3.29 -2.54L3.4 -2.54M2.15 -1.89L2.03 -2.12 2.18 -2.37 2.44 -2.39 2.56 -2.15 2.42 -1.9ZM2.06 -1.94L1.94 -2.18 2.08 -2.43 2.35 -2.44 2.47 -2.21 2.32 -1.96ZM2.5 -2.48L2.44 -2.39M2.15 -1.89L2.1 -1.79M2.4 -2.54L2.35 -2.44M2.06 -1.94L2 -1.85M2.44 -1.08L2.18 -1.09 2.03 -1.34 2.15 -1.58 2.42 -1.56 2.56 -1.31ZM2.35 -1.02L2.08 -1.04 1.94 -1.29 2.06 -1.52 2.32 -1.51 2.47 -1.26ZM2.1 -1.67L2.15 -1.58M2.44 -1.08L2.5 -.98M2 -1.62L2.06 -1.52M2.35 -1.02L2.4 -.93M3.29 -.92L3.15 -.7 2.85 -.7 2.71 -.92 2.85 -1.14 3.15 -1.14ZM3.29 -.81L3.15 -.59 2.85 -.59 2.71 -.81 2.85 -1.03 3.15 -1.03ZM2.6 -.92L2.71 -.92M3.29 -.92L3.4 -.92M2.6 -.81L2.71 -.81M3.29 -.81L3.4 -.81M2.15 -.15L2.03 -.39 2.18 -.64 2.44 -.66 2.56 -.42 2.42 -.17ZM2.06 -.21L1.94 -.45 2.08 -.7 2.35 -.71 2.47 -.48 2.32 -.22ZM2.5 -.75L2.44 -.66M2.15 -.15L2.1 -.06M2.4 -.81L2.35 -.71M2.06 -.21L2 -.11M2.44 .66L2.18 .64 2.03 .39 2.15 .15 2.42 .17 2.56 .42ZM2.35 .71L2.08 .7 1.94 .45 2.06 .21 2.32 .22 2.47 .48ZM2.1 .06L2.15 .15M2.44 .66L2.5 .75M2 .11L2.06 .21M2.35 .71L2.4 .81M3.29 .81L3.15 1.03 2.85 1.03 2.71 .81 2.85 .59 3.15 .59ZM3.29 .92L3.15 1.14 2.85 1.14 2.71 .92 2.85 .7 3.15 .7ZM2.6 .81L2.71 .81M3.29 .81L3.4 .81M2.6 .92L2.71 .92M3.29 .92L3.4 .92M2.15 1.58L2.03 1.34 2.18 1.09 2.44 1.08 2.56 1.31 2.42 1.56ZM2.06 1.52L1.94 1.29 2.08 1.04 2.35 1.02 2.47 1.26 2.32 1.51ZM2.5 .98L2.44 1.08M2.15 1.58L2.1 1.67M2.4 .93L2.35 1.02M2.06 1.52L2 1.62M2.44 2.39L2.18 2.37 2.03 2.12 2.15 1.89 2.42 1.9 2.56 2.15ZM2.35 2.44L2.08 2.43 1.94 2.18 2.06 1.94 2.32 1.96 2.47 2.21ZM2.1 1.79L2.15 1.89M2.44 2.39L2.5 2.48M2 1.85L2.06 1.94M2.35 2.44L2.4 2.54M3.29 2.54L3.15 2.76 2.85 2.76 2.71 2.54 2.85 2.32 3.15 2.32ZM3.29 2.65L3.15 2.87 2.85 2.87 2.71 2.65 2.85 2.43 3.15 2.43ZM2.6 2.54L2.71 2.54M3.29 2.54L3.4 2.54M2.6 2.65L2.71 2.65M3.29 2.65L3.4 2.65M2.15 3.31L2.03 3.07 2.18 2.82 2.44 2.81 2.56 3.04 2.42 3.29ZM2.06 3.25L1.94 3.02 2.08 2.77 2.35 2.75 2.47 2.99 2.32 3.24ZM2.5 2.71L2.44 2.81M2.15 3.31L2.1 3.4M2.4 2.66L2.35 2.75M2.06 3.25L2 3.35M2.44 4.12L2.18 4.11 2.03 3.85 2.15 3.62 2.42 3.63 2.56 3.88ZM2.35 4.18L2.08 4.16 1.94 3.91 2.06 3.67 2.32 3.69 2.47 3.94ZM2.1 3.52L2.15 3.62M2.44 4.12L2.5 4.22M2 3.58L2.06 3.67M2.35 4.18L2.4 4.27M3.29 4.28L3.15 4.5 2.85 4.5 2.71 4.28 2.85 4.05 3.15 4.05ZM3.29 4.39L3.15 4.61 2.85 4.61 2.71 4.39 2.85 4.16 3.15 4.16ZM2.6 4.28L2.71 4.28M3.29 4.28L3.4 4.28M2.6 4.39L2.71 4.39M3.29 4.39L3.4 4.39M2.15 5.04L2.03 4.81 2.18 4.55 2.44 4.54 2.56 4.78 2.42 5.03ZM2.06 4.99L1.94 4.75 2.08 4.5 2.35 4.48 2.47 4.72 2.32 4.97ZM2.5 4.44L2.44 4.54M2.15 5.04L2.1 5.14M2.4 4.39L2.35 4.48M2.06 4.99L2 5.08M4.79 -3.52L4.64 -3.3 4.36 -3.3 4.21 -3.52 4.35 -3.74 4.64 -3.74ZM4.79 -3.41L4.64 -3.19 4.36 -3.19 4.21 -3.41 4.35 -3.63 4.64 -3.63ZM4.1 -3.52L4.21 -3.52M4.79 -3.52L4.9 -3.52M4.1 -3.41L4.21 -3.41M4.79 -3.41L4.9 -3.41M3.65 -2.75L3.53 -2.99 3.68 -3.24 3.94 -3.25 4.06 -3.02 3.92 -2.77ZM3.56 -2.81L3.44 -3.04 3.58 -3.29 3.85 -3.31 3.97 -3.07 3.82 -2.82ZM4 -3.35L3.94 -3.25M3.65 -2.75L3.6 -2.66M3.9 -3.4L3.85 -3.31M3.56 -2.81L3.5 -2.71M3.56 -4.12L3.82 -4.11 3.97 -3.85 3.85 -3.62 3.58 -3.63 3.44 -3.88ZM3.65 -4.18L3.92 -4.16 4.06 -3.91 3.94 -3.67 3.68 -3.69 3.53 -3.94ZM3.9 -3.52L3.85 -3.62M3.56 -4.12L3.5 -4.22M4 -3.58L3.94 -3.67M3.65 -4.18L3.6 -4.27M3.94 -1.94L3.68 -1.96 3.53 -2.21 3.65 -2.44 3.92 -2.43 4.06 -2.18ZM3.85 -1.89L3.58 -1.9 3.44 -2.15 3.56 -2.39 3.82 -2.37 3.97 -2.12ZM3.6 -2.54L3.65 -2.44M3.94 -1.94L4 -1.85M3.5 -2.48L3.56 -2.39M3.85 -1.89L3.9 -1.79M4.79 -1.79L4.64 -1.57 4.36 -1.57 4.21 -1.79 4.35 -2.01 4.64 -2.01ZM4.79 -1.68L4.64 -1.46 4.36 -1.46 4.21 -1.68 4.35 -1.9 4.64 -1.9ZM4.1 -1.79L4.21 -1.79M4.79 -1.79L4.9 -1.79M4.1 -1.68L4.21 -1.68M4.79 -1.68L4.9 -1.68M3.65 -1.02L3.53 -1.26 3.68 -1.51 3.94 -1.52 4.06 -1.29 3.92 -1.04ZM3.56 -1.08L3.44 -1.31 3.58 -1.56 3.85 -1.58 3.97 -1.34 3.82 -1.09ZM4 -1.62L3.94 -1.52M3.65 -1.02L3.6 -.93M3.9 -1.67L3.85 -1.58M3.56 -1.08L3.5 -.98M3.94 -.21L3.68 -.22 3.53 -.48 3.65 -.71 3.92 -.7 4.06 -.45ZM3.85 -.15L3.58 -.17 3.44 -.42 3.56 -.66 3.82 -.64 3.97 -.39ZM3.6 -.81L3.65 -.71M3.94 -.21L4 -.11M3.5 -.75L3.56 -.66M3.85 -.15L3.9 -.06M4.79 -.06L4.64 .17 4.36 .17 4.21 -.05 4.35 -.28 4.64 -.28ZM4.79 .06L4.64 .28 4.36 .28 4.21 .06 4.35 -.17 4.64 -.17ZM4.1 -.06L4.21 -.06M4.79 -.06L4.9 -.06M4.1 .06L4.21 .06M4.79 .06L4.9 .06M3.65 .71L3.53 .48 3.68 .22 3.94 .21 4.06 .45 3.92 .7ZM3.56 .66L3.44 .42 3.58 .17 3.85 .15 3.97 .39 3.82 .64ZM4 .11L3.94 .21M3.65 .71L3.6 .81M3.9 .06L3.85 .15M3.56 .66L3.5 .75M3.94 1.52L3.68 1.51 3.53 1.26 3.65 1.02 3.92 1.04 4.06 1.29ZM3.85 1.58L3.58 1.56 3.44 1.31 3.56 1.08 3.82 1.09 3.97 1.34ZM3.6 .93L3.65 1.02M3.94 1.52L4 1.62M3.5 .98L3.56 1.08M3.85 1.58L3.9 1.67M4.79 1.68L4.64 1.9 4.36 1.9 4.21 1.68 4.35 1.46 4.64 1.46ZM4.79 1.79L4.64 2.01 4.36 2.01 4.21 1.79 4.35 1.57 4.64 1.57ZM4.1 1.68L4.21 1.68M4.79 1.68L4.9 1.68M4.1 1.79L4.21 1.79M4.79 1.79L4.9 1.79M3.65 2.44L3.53 2.21 3.68 1.96 3.94 1.94 4.06 2.18 3.92 2.43ZM3.56 2.39L3.44 2.15 3.58 1.9 3.85 1.89 3.97 2.12 3.82 2.37ZM4 1.85L3.94 1.94M3.65 2.44L3.6 2.54M3.9 1.79L3.85 1.89M3.56 2.39L3.5 2.48M3.94 3.25L3.68 3.24 3.53 2.99 3.65 2.75 3.92 2.77 4.06 3.02ZM3.85 3.31L3.58 3.29 3.44 3.04 3.56 2.81 3.82 2.82 3.97 3.07ZM3.6 2.66L3.65 2.75M3.94 3.25L4 3.35M3.5 2.71L3.56 2.81M3.85 3.31L3.9 3.4M4.79 3.41L4.64 3.63 4.36 3.63 4.21 3.41 4.35 3.19 4.64 3.19ZM4.79 3.52L4.64 3.74 4.36 3.74 4.21 3.52 4.35 3.3 4.64 3.3ZM4.1 3.41L4.21 3.41M4.79 3.41L4.9 3.41M4.1 3.52L4.21 3.52M4.79 3.52L4.9 3.52M3.65 4.18L3.53 3.94 3.68 3.69 3.94 3.67 4.06 3.91 3.92 4.16ZM3.56 4.12L3.44 3.88 3.58 3.63 3.85 3.62 3.97 3.85 3.82 4.11ZM4 3.58L3.94 3.67M3.65 4.18L3.6 4.27M3.9 3.52L3.85 3.62M3.56 4.12L3.5 4.22M5.15 -1.89L5.03 -2.12 5.18 -2.37 5.44 -2.39 5.56 -2.15 5.42 -1.9ZM5.06 -1.94L4.94 -2.18 5.08 -2.43 5.35 -2.44 5.47 -2.21 5.32 -1.96ZM5.5 -2.48L5.44 -2.39M5.15 -1.89L5.1 -1.79M5.4 -2.54L5.35 -2.44M5.06 -1.94L5 -1.85M5.06 -3.25L5.32 -3.24 5.47 -2.99 5.35 -2.75 5.08 -2.77 4.94 -3.02ZM5.15 -3.31L5.42 -3.29 5.56 -3.04 5.44 -2.81 5.18 -2.82 5.03 -3.07ZM5.4 -2.66L5.35 -2.75M5.06 -3.25L5 -3.35M5.5 -2.71L5.44 -2.81M5.15 -3.31L5.1 -3.4M5.44 -1.08L5.18 -1.09 5.03 -1.34 5.15 -1.58 5.42 -1.56 5.56 -1.31ZM5.35 -1.02L5.08 -1.04 4.94 -1.29 5.06 -1.52 5.32 -1.51 5.47 -1.26ZM5.1 -1.67L5.15 -1.58M5.44 -1.08L5.5 -.98M5 -1.62L5.06 -1.52M5.35 -1.02L5.4 -.93M5.15 -.15L5.03 -.39 5.18 -.64 5.44 -.66 5.56 -.42 5.42 -.17ZM5.06 -.21L4.94 -.45 5.08 -.7 5.35 -.71 5.47 -.48 5.32 -.22ZM5.5 -.75L5.44 -.66M5.15 -.15L5.1 -.06M5.4 -.81L5.35 -.71M5.06 -.21L5 -.11M5.44 .66L5.18 .64 5.03 .39 5.15 .15 5.42 .17 5.56 .42ZM5.35 .71L5.08 .7 4.94 .45 5.06 .21 5.32 .22 5.47 .48ZM5.1 .06L5.15 .15M5.44 .66L5.5 .75M5 .11L5.06 .21M5.35 .71L5.4 .81M5.15 1.58L5.03 1.34 5.18 1.09 5.44 1.08 5.56 1.31 5.42 1.56ZM5.06 1.52L4.94 1.29 5.08 1.04 5.35 1.02 5.47 1.26 5.32 1.51ZM5.5 .98L5.44 1.08M5.15 1.58L5.1 1.67M5.4 .93L5.35 1.02M5.06 1.52L5 1.62M5.44 2.39L5.18 2.37 5.03 2.12 5.15 1.89 5.42 1.9 5.56 2.15ZM5.35 2.44L5.08 2.43 4.94 2.18 5.06 1.94 5.32 1.96 5.47 2.21ZM5.1 1.79L5.15 1.89M5.44 2.39L5.5 2.48M5 1.85L5.06 1.94M5.35 2.44L5.4 2.54M5.15 3.31L5.03 3.07 5.18 2.82 5.44 2.81 5.56 3.04 5.42 3.29ZM5.06 3.25L4.94 3.02 5.08 2.77 5.35 2.75 5.47 2.99 5.32 3.24ZM5.5 2.71L5.44 2.81M5.15 3.31L5.1 3.4M5.4 2.66L5.35 2.75M5.06 3.25L5 3.35M-5.6 -2.6L-6 -2.6M-6.13 -2.69L-6 -2.6 -6.13 -2.51M-5.05 -3.55L-5.25 -3.9M-5.24 -4.06L-5.25 -3.9 -5.39 -3.97M-5.6 -.87L-6 -.87M-6.13 -.96L-6 -.87 -6.13 -.78M-5.6 .87L-6 .87M-6.13 .78L-6 .87 -6.13 .96M-5.05 3.55L-5.25 3.9M-5.39 3.97L-5.25 3.9 -5.24 4.06M-5.6 2.6L-6 2.6M-6.13 2.51L-6 2.6 -6.13 2.69M-3.55 -4.42L-3.75 -4.76M-3.74 -4.92L-3.75 -4.76 -3.89 -4.83M-3.55 4.42L-3.75 4.76M-3.89 4.83L-3.75 4.76 -3.74 4.92M-2.05 -5.28L-2.25 -5.63M-2.24 -5.79L-2.25 -5.63 -2.39 -5.7M-2.05 5.28L-2.25 5.63M-2.39 5.7L-2.25 5.63 -2.24 5.79M-.55 -6.15L-.75 -6.5M-.74 -6.65L-.75 -6.5 -.89 -6.56M.55 -6.15L.75 -6.5M.89 -6.56L.75 -6.5 .74 -6.65M.55 6.15L.75 6.5M.74 6.65L.75 6.5 .89 6.56M-.55 6.15L-.75 6.5M-.89 6.56L-.75 6.5 -.74 6.65M2.05 -5.28L2.25 -5.63M2.39 -5.7L2.25 -5.63 2.24 -5.79M2.05 5.28L2.25 5.63M2.24 5.79L2.25 5.63 2.39 5.7M3.55 -4.42L3.75 -4.76M3.89 -4.83L3.75 -4.76 3.74 -4.92M3.55 4.42L3.75 4.76M3.74 4.92L3.75 4.76 3.89 4.83M5.6 -2.6L6 -2.6M6.13 -2.51L6 -2.6 6.13 -2.69M5.05 -3.55L5.25 -3.9M5.39 -3.97L5.25 -3.9 5.24 -4.06M5.6 -.87L6 -.87M6.13 -.78L6 -.87 6.13 -.96M5.6 .87L6 .87M6.13 .96L6 .87 6.13 .78M5.6 2.6L6 2.6M6.13 2.69L6 2.6 6.13 2.51M5.05 3.55L5.25 3.9M5.24 4.06L5.25 3.9 5.39 3.97"/>
<path id="N" d="M-3.8 -2.6L-3.2 -2.6M-3.65 -2.86L-3.35 -2.34M-3.35 -2.86L-3.65 -2.34M-4.3 -1.73L-3.7 -1.73M-4.15 -1.99L-3.85 -1.47M-3.85 -1.99L-4.15 -1.47M-5.3 -1.73L-4.7 -1.73M-5.15 -1.99L-4.85 -1.47M-4.85 -1.99L-5.15 -1.47M-5.8 -2.6L-5.2 -2.6M-5.65 -2.86L-5.35 -2.34M-5.35 -2.86L-5.65 -2.34M-5.3 -3.46L-4.7 -3.46M-5.15 -3.72L-4.85 -3.2M-4.85 -3.72L-5.15 -3.2M-4.3 -3.46L-3.7 -3.46M-4.15 -3.72L-3.85 -3.2M-3.85 -3.72L-4.15 -3.2M-3.8 -.87L-3.2 -.87M-3.65 -1.13L-3.35 -.61M-3.35 -1.13L-3.65 -.61M-4.3 0L-3.7 0M-4.15 -.26L-3.85 .26M-3.85 -.26L-4.15 .26M-5.3 0L-4.7 0M-5.15 -.26L-4.85 .26M-4.85 -.26L-5.15 .26M-5.8 -.87L-5.2 -.87M-5.65 -1.13L-5.35 -.61M-5.35 -1.13L-5.65 -.61M-3.8 .87L-3.2 .87M-3.65 .61L-3.35 1.13M-3.35 .61L-3.65 1.13M-4.3 1.73L-3.7 1.73M-4.15 1.47L-3.85 1.99M-3.85 1.47L-4.15 1.99M-5.3 1.73L-4.7 1.73M-5.15 1.47L-4.85 1.99M-4.85 1.47L-5.15 1.99M-5.8 .87L-5.2 .87M-5.65 .61L-5.35 1.13M-5.35 .61L-5.65 1.13M-3.8 2.6L-3.2 2.6M-3.65 2.34L-3.35 2.86M-3.35 2.34L-3.65 2.86M-4.3 3.46L-3.7 3.46M-4.15 3.2L-3.85 3.72M-3.85 3.2L-4.15 3.72M-5.3 3.46L-4.7 3.46M-5.15 3.2L-4.85 3.72M-4.85 3.2L-5.15 3.72M-5.8 2.6L-5.2 2.6M-5.65 2.34L-5.35 2.86M-5.35 2.34L-5.65 2.86M-2.3 -3.46L-1.7 -3.46M-2.15 -3.72L-1.85 -3.2M-1.85 -3.72L-2.15 -3.2M-2.8 -2.6L-2.2 -2.6M-2.65 -2.86L-2.35 -2.34M-2.35 -2.86L-2.65 -2.34M-3.8 -4.33L-3.2 -4.33M-3.65 -4.59L-3.35 -4.07M-3.35 -4.59L-3.65 -4.07M-2.8 -4.33L-2.2 -4.33M-2.65 -4.59L-2.35 -4.07M-2.35 -4.59L-2.65 -4.07M-2.3 -1.73L-1.7 -1.73M-2.15 -1.99L-1.85 -1.47M-1.85 -1.99L-2.15 -1.47M-2.8 -.87L-2.2 -.87M-2.65 -1.13L-2.35 -.61M-2.35 -1.13L-2.65 -.61M-2.3 0L-1.7 0M-2.15 -.26L-1.85 .26M-1.85 -.26L-2.15 .26M-2.8 .87L-2.2 .87M-2.65 .61L-2.35 1.13M-2.35 .61L-2.65 1.13M-2.3 1.73L-1.7 1.73M-2.15 1.47L-1.85 1.99M-1.85 1.47L-2.15 1.99M-2.8 2.6L-2.2 2.6M-2.65 2.34L-2.35 2.86M-2.35 2.34L-2.65 2.86M-2.3 3.46L-1.7 3.46M-2.15 3.2L-1.85 3.72M-1.85 3.2L-2.15 3.72M-2.8 4.33L-2.2 4.33M-2.65 4.07L-2.35 4.59M-2.35 4.07L-2.65 4.59M-3.8 4.33L-3.2 4.33M-3.65 4.07L-3.35 4.59M-3.35 4.07L-3.65 4.59M-.8 -4.33L-.2 -4.33M-.65 -4.59L-.35 -4.07M-.35 -4.59L-.65 -4.07M-1.3 -3.46L-.7 -3.46M-1.15 -3.72L-.85 -3.2M-.85 -3.72L-1.15 -3.2M-2.3 -5.2L-1.7 -5.2M-2.15 -5.46L-1.85 -4.94M-1.85 -5.46L-2.15 -4.94M-1.3 -5.2L-.7 -5.2M-1.15 -5.46L-.85 -4.94M-.85 -5.46L-1.15 -4.94M-.8 -2.6L-.2 -2.6M-.65 -2.86L-.35 -2.34M-.35 -2.86L-.65 -2.34M-1.3 -1.73L-.7 -1.73M-1.15 -1.99L-.85 -1.47M-.85 -1.99L-1.15 -1.47M-.8 -.87L-.2 -.87M-.65 -1.13L-.35 -.61M-.35 -1.13L-.65 -.61M-1.3 0L-.7 0M-1.15 -.26L-.85 .26M-.85 -.26L-1.15 .26M-.8 .87L-.2 .87M-.65 .61L-.35 1.13M-.35 .61L-.65 1.13M-1.3 1.73L-.7 1.73M-1.15 1.47L-.85 1.99M-.85 1.47L-1.15 1.99M-.8 2.6L-.2 2.6M-.65 2.34L-.35 2.86M-.35 2.34L-.65 2.86M-1.3 3.46L-.7 3.46M-1.15 3.2L-.85 3.72M-.85 3.2L-1.15 3.72M-.8 4.33L-.2 4.33M-.65 4.07L-.35 4.59M-.35 4.07L-.65 4.59M-1.3 5.2L-.7 5.2M-1.15 4.94L-.85 5.46M-.85 4.94L-1.15 5.46M-2.3 5.2L-1.7 5.2M-2.15 4.94L-1.85 5.46M-1.85 4.94L-2.15 5.46M.7 -5.2L1.3 -5.2M.85 -5.46L1.15 -4.94M1.15 -5.46L.85 -4.94M.2 -4.33L.8 -4.33M.35 -4.59L.65 -4.07M.65 -4.59L.35 -4.07M-.8 -6.06L-.2 -6.06M-.65 -6.32L-.35 -5.8M-.35 -6.32L-.65 -5.8M.2 -6.06L.8 -6.06M.35 -6.32L.65 -5.8M.65 -6.32L.35 -5.8M.7 -3.46L1.3 -3.46M.85 -3.72L1.15 -3.2M1.15 -3.72L.85 -3.2M.2 -2.6L.8 -2.6M.35 -2.86L.65 -2.34M.65 -2.86L.35 -2.34M.7 -1.73L1.3 -1.73M.85 -1.99L1.15 -1.47M1.15 -1.99L.85 -1.47M.2 -.87L.8 -.87M.35 -1.13L.65 -.61M.65 -1.13L.35 -.61M.7 0L1.3 0M.85 -.26L1.15 .26M1.15 -.26L.85 .26M.2 .87L.8 .87M.35 .61L.65 1.13M.65 .61L.35 1.13M.7 1.73L1.3 1.73M.85 1.47L1.15 1.99M1.15 1.47L.85 1.99M.2 2.6L.8 2.6M.35 2.34L.65 2.86M.65 2.34L.35 2.86M.7 3.46L1.3 3.46M.85 3.2L1.15 3.72M1.15 3.2L.85 3.72M.2 4.33L.8 4.33M.35 4.07L.65 4.59M.65 4.07L.35 4.59M.7 5.2L1.3 5.2M.85 4.94L1.15 5.46M1.15 4.94L.85 5.46M.2 6.06L.8 6.06M.35 5.8L.65 6.32M.65 5.8L.35 6.32M-.8 6.06L-.2 6.06M-.65 5.8L-.35 6.32M-.35 5.8L-.65 6.32M2.2 -4.33L2.8 -4.33M2.35 -4.59L2.65 -4.07M2.65 -4.59L2.35 -4.07M1.7 -3.46L2.3 -3.46M1.85 -3.72L2.15 -3.2M2.15 -3.72L1.85 -3.2M1.7 -5.2L2.3 -5.2M1.85 -5.46L2.15 -4.94M2.15 -5.46L1.85 -4.94M2.2 -2.6L2.8 -2.6M2.35 -2.86L2.65 -2.34M2.65 -2.86L2.35 -2.34M1.7 -1.73L2.3 -1.73M1.85 -1.99L2.15 -1.47M2.15 -1.99L1.85 -1.47M2.2 -.87L2.8 -.87M2.35 -1.13L2.65 -.61M2.65 -1.13L2.35 -.61M1.7 0L2.3 0M1.85 -.26L2.15 .26M2.15 -.26L1.85 .26M2.2 .87L2.8 .87M2.35 .61L2.65 1.13M2.65 .61L2.35 1.13M1.7 1.73L2.3 1.73M1.85 1.47L2.15 1.99M2.15 1.47L1.85 1.99M2.2 2.6L2.8 2.6M2.35 2.34L2.65 2.86M2.65 2.34L2.35 2.86M1.7 3.46L2.3 3.46M1.85 3.2L2.15 3.72M2.15 3.2L1.85 3.72M2.2 4.33L2.8 4.33M2.35 4.07L2.65 4.59M2.65 4.07L2.35 4.59M1.7 5.2L2.3 5.2M1.85 4.94L2.15 5.46M2.15 4.94L1.85 5.46M3.7 -3.46L4.3 -3.46M3.85 -3.72L4.15 -3.2M4.15 -3.72L3.85 -3.2M3.2 -2.6L3.8 -2.6M3.35 -2.86L3.65 -2.34M3.65 -2.86L3.35 -2.34M3.2 -4.33L3.8 -4.33M3.35 -4.59L3.65 -4.07M3.65 -4.59L3.35 -4.07M3.7 -1.73L4.3 -1.73M3.85 -1.99L4.15 -1.47M4.15 -1.99L3.85 -1.47M3.2 -.87L3.8 -.87M3.35 -1.13L3.65 -.61M3.65 -1.13L3.35 -.61M3.7 0L4.3 0M3.85 -.26L4.15 .26M4.15 -.26L3.85 .26M3.2 .87L3.8 .87M3.35 .61L3.65 1.13M3.65 .61L3.35 1.13M3.7 1.73L4.3 1.73M3.85 1.47L4.15 1.99M4.15 1.47L3.85 1.99M3.2 2.6L3.8 2.6M3.35 2.34L3.65 2.86M3.65 2.34L3.35 2.86M3.7 3.46L4.3 3.46M3.85 3.2L4.15 3.72M4.15 3.2L3.85 3.72M3.2 4.33L3.8 4.33M3.35 4.07L3.65 4.59M3.65 4.07L3.35 4.59M5.2 -2.6L5.8 -2.6M5.35 -2.86L5.65 -2.34M5.65 -2.86L5.35 -2.34M4.7 -1.73L5.3 -1.73M4.85 -1.99L5.15 -1.47M5.15 -1.99L4.85 -1.47M4.7 -3.46L5.3 -3.46M4.85 -3.72L5.15 -3.2M5.15 -3.72L4.85 -3.2M5.2 -.87L5.8 -.87M5.35 -1.13L5.65 -.61M5.65 -1.13L5.35 -.61M4.7 0L5.3 0M4.85 -.26L5.15 .26M5.15 -.26L4.85 .26M5.2 .87L5.8 .87M5.35 .61L5.65 1.13M5.65 .61L5.35 1.13M4.7 1.73L5.3 1.73M4.85 1.47L5.15 1.99M5.15 1.47L4.85 1.99M5.2 2.6L5.8 2.6M5.35 2.34L5.65 2.86M5.65 2.34L5.35 2.86M4.7 3.46L5.3 3.46M4.85 3.2L5.15 3.72M5.15 3.2L4.85 3.72"/>
<path id="C" d="M-3.5 -2.6h0M-4 -1.73h0M-5 -1.73h0M-5.5 -2.6h0M-5 -3.46h0M-4 -3.46h0M-3.5 -.87h0M-4 0h0M-5 0h0M-5.5 -.87h0M-3.5 .87h0M-4 1.73h0M-5 1.73h0M-5.5 .87h0M-3.5 2.6h0M-4 3.46h0M-5 3.46h0M-5.5 2.6h0M-2 -3.46h0M-2.5 -2.6h0M-3.5 -4.33h0M-2.5 -4.33h0M-2 -1.73h0M-2.5 -.87h0M-2 0h0M-2.5 .87h0M-2 1.73h0M-2.5 2.6h0M-2 3.46h0M-2.5 4.33h0M-3.5 4.33h0M-.5 -4.33h0M-1 -3.46h0M-2 -5.2h0M-1 -5.2h0M-.5 -2.6h0M-1 -1.73h0M-.5 -.87h0M-1 0h0M-.5 .87h0M-1 1.73h0M-.5 2.6h0M-1 3.46h0M-.5 4.33h0M-1 5.2h0M-2 5.2h0M1 -5.2h0M.5 -4.33h0M-.5 -6.06h0M.5 -6.06h0M1 -3.46h0M.5 -2.6h0M1 -1.73h0M.5 -.87h0M1 0h0M.5 .87h0M1 1.73h0M.5 2.6h0M1 3.46h0M.5 4.33h0M1 5.2h0M.5 6.06h0M-.5 6.06h0M2.5 -4.33h0M2 -3.46h0M2 -5.2h0M2.5 -2.6h0M2 -1.73h0M2.5 -.87h0M2 0h0M2.5 .87h0M2 1.73h0M2.5 2.6h0M2 3.46h0M2.5 4.33h0M2 5.2h0M4 -3.46h0M3.5 -2.6h0M3.5 -4.33h0M4 -1.73h0M3.5 -.87h0M4 0h0M3.5 .87h0M4 1.73h0M3.5 2.6h0M4 3.46h0M3.5 4.33h0M5.5 -2.6h0M5 -1.73h0M5 -3.46h0M5.5 -.87h0M5 0h0M5.5 .87h0M5 1.73h0M5.5 2.6h0M5 3.46h0"/>
<g id="Fb"><use href="#RB" class="rbs" transform="translate(-.07 .08)"/><use href="#RB" class="rb1"/><use href="#RB" class="rb2"/><use href="#N" class="nb1"/><use href="#N" class="nb2"/><use href="#C" class="cb"/></g>
<g id="Fp"><use href="#R" class="rps" transform="translate(-.07 .08)"/><use href="#R" class="rp1"/><use href="#R" class="rp2"/><use href="#N" class="np1"/><use href="#N" class="np2"/><use href="#C" class="cp"/></g>
<clipPath id="clipIII"><rect x="900" y="1385" width="373" height="300"/></clipPath>
<clipPath id="clipF"><rect x="1700" y="980" width="300" height="281"/></clipPath>
</defs>
<rect width="2000" height="1687" fill="#fff"/>
<text x="18.5" y="46.3" font-size="46" font-weight="bold">a</text>
<rect x="754" y="468.8" width="519" height="1.6" fill="#efefef"/>
<use href="#Fb" transform="matrix(19.3 0 0 20 341 163)"/>
<use href="#Fp" transform="matrix(19.3 0 0 20 342 367.3)"/>
<use href="#Fb" transform="matrix(21.8 0 -1.04 20.8 925.5 329.3)"/>
<use href="#Fp" transform="matrix(21.6 0 0 21 1129.5 330)"/>
<path d="M166.4 173V517.3H511V507.5H176.8V173Z" fill="#000"/>
<path d="M171.6 145L183.8 173.5H159.3Z" fill="#000"/>
<path d="M535.5 512.4L510.5 500.5V523.3Z" fill="#000"/>
<text x="170" y="102.8" font-size="26.5" text-anchor="middle">[ 0 1 0]</text>
<text x="173" y="138.8" font-size="26" font-style="italic" text-anchor="middle">Y</text>
<text x="547" y="516.5" font-size="28.5" font-style="italic">X</text><text x="578" y="516.5" font-size="26.5">[ 1 0 0]</text>
<path d="M767.5 160V504H1111V495H776.5V160Z" fill="#000"/>
<path d="M772 136.5L782.5 160.5H761.5Z" fill="#000"/>
<path d="M1136.5 499.5L1110.5 489V511.5Z" fill="#000"/>
<text x="770.5" y="100.5" font-size="26.5" text-anchor="middle">[ 0 1 0]</text>
<text x="772" y="130.5" font-size="26" font-style="italic" text-anchor="middle">Y</text>
<text x="1149" y="506.5" font-size="28.5" font-style="italic">X</text><text x="1180" y="506.5" font-size="26.5">[ 1 0 0]</text>
<path d="M337.8 196L373.8 232.8H357V330.8H320.3V232.8H303.8Z" fill="#bdd7ee" stroke="#2e75b6" stroke-width="1"/>
<text transform="translate(344.5 274.5) rotate(-90)" font-size="26" text-anchor="middle">Sliding</text>
<path d="M950.5 327L985 292.5V309.6H1084.6V345H985V363Z" fill="#bdd7ee" stroke="#2e75b6" stroke-width="1"/>
<text x="1029" y="338" font-size="26" text-anchor="middle">Sliding</text>
<text x="12.5" y="661" font-size="46" font-weight="bold">b</text>
<rect x="184.3" y="600.5" width="123.5" height="660.5" fill="#d7dff2"/>
<rect x="313.0" y="600.5" width="133" height="660.5" fill="#f2ded2"/>
<rect x="450.3" y="600.5" width="137.9" height="660.5" fill="#d7dff2"/>
<rect x="593.5" y="600.5" width="131.5" height="660.5" fill="#f2ded2"/>
<rect x="729.5" y="600.5" width="135.8" height="660.5" fill="#d7dff2"/>
<path d="M191.8 597v14M327.9 597v8M464 597v8M600.1 597v8M736.2 597v8M872.3 597v8M1008.4 597v8M1144.5 597v8M1280.6 597v8" stroke="#3b6fc7" stroke-width="3" fill="none"/>
<path d="M165 1263H1347.5" stroke="#ff0000" stroke-width="3"/>
<path d="M163.5 597H1347.5" stroke="#3b6fc7" stroke-width="3"/>
<path d="M165 595.5V1265M1346 595.5V1265" stroke="#000" stroke-width="3.2"/>
<path d="M151 1263.4H165M158.5 1226.35H165M151 1189.3H165M158.5 1152.25H165M151 1115.2H165M158.5 1078.15H165M151 1041.1H165M158.5 1004.05H165M151 967H165M158.5 929.95H165M151 892.9H165M158.5 855.85H165M151 818.8H165M158.5 781.75H165M151 744.7H165M158.5 707.65H165M151 670.6H165M158.5 633.55H165M151 596.5H165" stroke="#000" stroke-width="3"/>
<path d="M191.8 1263V1277M327.9 1263V1277M464 1263V1277M600.1 1263V1277M736.2 1263V1277M872.3 1263V1277M1008.4 1263V1277M1144.5 1263V1277M1280.6 1263V1277" stroke="#ff0000" stroke-width="3"/>
<text x="147.3" y="1273.57" font-size="27" text-anchor="end">-8</text>
<text x="147.3" y="1199.74" font-size="27" text-anchor="end">-6</text>
<text x="147.3" y="1125.91" font-size="27" text-anchor="end">-4</text>
<text x="147.3" y="1052.08" font-size="27" text-anchor="end">-2</text>
<text x="147.3" y="978.25" font-size="27" text-anchor="end">0</text>
<text x="147.3" y="904.42" font-size="27" text-anchor="end">2</text>
<text x="147.3" y="830.59" font-size="27" text-anchor="end">4</text>
<text x="147.3" y="756.76" font-size="27" text-anchor="end">6</text>
<text x="147.3" y="682.93" font-size="27" text-anchor="end">8</text>
<text x="147.3" y="609.1" font-size="27" text-anchor="end">10</text>
<text x="191.8" y="1299.2" font-size="26.5" text-anchor="middle" fill="#ff0000">0</text>
<text x="327.9" y="1299.2" font-size="26.5" text-anchor="middle" fill="#ff0000">5</text>
<text x="464" y="1299.2" font-size="26.5" text-anchor="middle" fill="#ff0000">10</text>
<text x="600.1" y="1299.2" font-size="26.5" text-anchor="middle" fill="#ff0000">15</text>
<text x="736.2" y="1299.2" font-size="26.5" text-anchor="middle" fill="#ff0000">20</text>
<text x="872.3" y="1299.2" font-size="26.5" text-anchor="middle" fill="#ff0000">25</text>
<text x="1008.4" y="1299.2" font-size="26.5" text-anchor="middle" fill="#ff0000">30</text>
<text x="1144.5" y="1299.2" font-size="26.5" text-anchor="middle" fill="#ff0000">35</text>
<text x="1280.6" y="1299.2" font-size="26.5" text-anchor="middle" fill="#ff0000">40</text>
<text x="328.4" y="632.3" font-size="27.5" text-anchor="middle" fill="#3b6fc7">0</text>
<text x="464.5" y="632.3" font-size="27.5" text-anchor="middle" fill="#3b6fc7">5</text>
<text x="600.6" y="632.3" font-size="27.5" text-anchor="middle" fill="#3b6fc7">10</text>
<text x="736.7" y="632.3" font-size="27.5" text-anchor="middle" fill="#3b6fc7">15</text>
<text x="872.8" y="632.3" font-size="27.5" text-anchor="middle" fill="#3b6fc7">20</text>
<text x="1008.9" y="632.3" font-size="27.5" text-anchor="middle" fill="#3b6fc7">25</text>
<text x="1145" y="632.3" font-size="27.5" text-anchor="middle" fill="#3b6fc7">30</text>
<text x="1281.1" y="632.3" font-size="27.5" text-anchor="middle" fill="#3b6fc7">35</text>
<text x="741.8" y="1337.7" font-size="26" text-anchor="middle">Distance (Å)</text>
<text transform="translate(69.5 937) rotate(-90)" font-size="31.5" text-anchor="middle">Free energy (kcal mol<tspan font-size="20" dy="-11.5">-1</tspan><tspan dy="11.5">)</tspan></text>
<path d="M301.2 878.6C301.83 879.5 303.7 882.1 305 884C306.3 885.9 307.58 887.83 309 890C310.42 892.17 312 891.17 313.5 897C315 902.83 316.3 913.4 318 925C319.7 936.6 322.03 952.43 323.7 966.6C325.37 980.77 326.62 996.37 328 1010C329.38 1023.63 330.67 1037.07 332 1048.4C333.33 1059.73 334.65 1069.12 336 1078C337.35 1086.88 338.6 1093.87 340.1 1101.7C341.6 1109.53 343.35 1117.28 345 1125C346.65 1132.72 348.43 1141.33 350 1148C351.57 1154.67 352.9 1164.67 354.4 1165C355.9 1165.33 357.28 1157.17 359 1150C360.72 1142.83 363.2 1135.33 364.7 1122C366.2 1108.67 366.63 1090.5 368 1070C369.37 1049.5 371.4 1024 372.9 999C374.4 974 375.65 947.23 377 920C378.35 892.77 379.83 860.6 381 835.6C382.17 810.6 382.97 790.47 384 770C385.03 749.53 386.03 730.3 387.2 712.8C388.37 695.3 389.85 675.23 391 665C392.15 654.77 393.1 651.9 394.1 651.4C395.1 650.9 395.77 655.18 397 662C398.23 668.82 400.5 677.63 401.5 692.3C402.5 706.97 402.32 729.55 403 750C403.68 770.45 404.6 792.5 405.6 815C406.6 837.5 407.63 861.1 409 885C410.37 908.9 412.3 935.9 413.8 958.4C415.3 980.9 416.63 999.57 418 1020C419.37 1040.43 420.5 1061 422 1081C423.5 1101 425.5 1122.67 427 1140C428.5 1157.33 429.8 1173.67 431 1185C432.2 1196.33 433.03 1206.33 434.2 1208C435.37 1209.67 436.63 1202.5 438 1195C439.37 1187.5 441.07 1176.33 442.4 1163C443.73 1149.67 444.63 1132.05 446 1115C447.37 1097.95 448.87 1086.8 450.6 1060.7C452.33 1034.6 454.83 983.68 456.4 958.4C457.97 933.12 458.63 929.47 460 909C461.37 888.53 463.27 855.43 464.6 835.6C465.93 815.77 466.65 803.65 468 790C469.35 776.35 471.2 761.7 472.7 753.7C474.2 745.7 475.78 744.28 477 742C478.22 739.72 479 740.43 480 740C481 739.57 482 738.07 483 739.4C484 740.73 484.98 743.57 486 748C487.02 752.43 487.93 756.5 489.1 766C490.27 775.5 491.63 790 493 805C494.37 820 495.97 839.33 497.3 856C498.63 872.67 499.63 887.93 501 905C502.37 922.07 504.17 942.57 505.5 958.4C506.83 974.23 507.63 987.73 509 1000C510.37 1012.27 512.37 1024 513.7 1032C515.03 1040 515.63 1044.23 517 1048C518.37 1051.77 520.4 1054.93 521.9 1054.6C523.4 1054.27 524.65 1049.77 526 1046C527.35 1042.23 528.67 1038.83 530 1032C531.33 1025.17 532.63 1013.17 534 1005C535.37 996.83 536.87 987.83 538.2 983C539.53 978.17 540.77 977.37 542 976C543.23 974.63 544.27 974.13 545.6 974.8C546.93 975.47 548.5 976.6 550 980C551.5 983.4 553.27 989.37 554.6 995.2C555.93 1001.03 556.63 1007.53 558 1015C559.37 1022.47 561.3 1031.17 562.8 1040C564.3 1048.83 565.63 1059.08 567 1068C568.37 1076.92 569.5 1086.5 571 1093.5C572.5 1100.5 574.3 1104.55 576 1110C577.7 1115.45 579.37 1121.2 581.2 1126.2C583.03 1131.2 585.15 1136.93 587 1140C588.85 1143.07 590.63 1146.27 592.3 1144.6C593.97 1142.93 595.43 1137.15 597 1130C598.57 1122.85 600.2 1114.2 601.7 1101.7C603.2 1089.2 604.63 1072.07 606 1055C607.37 1037.93 608.4 1020.97 609.9 999.3C611.4 977.63 613.3 948.88 615 925C616.7 901.12 618.77 876.83 620.1 856C621.43 835.17 621.98 815.67 623 800C624.02 784.33 625.2 772.83 626.2 762C627.2 751.17 627.97 741.5 629 735C630.03 728.5 631.23 723 632.4 723C633.57 723 634.63 727.83 636 735C637.37 742.17 639.27 752.67 640.6 766C641.93 779.33 642.63 796.58 644 815C645.37 833.42 647.3 855.67 648.8 876.5C650.3 897.33 651.63 919.53 653 940C654.37 960.47 655.67 981.8 657 999.3C658.33 1016.8 659.65 1031.38 661 1045C662.35 1058.62 663.6 1071.5 665.1 1081C666.6 1090.5 668.5 1097.18 670 1102C671.5 1106.82 672.77 1110.23 674.1 1109.9C675.43 1109.57 676.77 1104.82 678 1100C679.23 1095.18 680.33 1090.17 681.5 1081C682.67 1071.83 683.63 1058.62 685 1045C686.37 1031.38 688.03 1014.3 689.7 999.3C691.37 984.3 693.3 968.63 695 955C696.7 941.37 698.4 930 699.9 917.5C701.4 905 702.63 890.92 704 880C705.37 869.08 706.6 860 708.1 852C709.6 844 711.43 836.78 713 832C714.57 827.22 716 822.8 717.5 823.3C719 823.8 720.5 829.55 722 835C723.5 840.45 725.17 848.5 726.5 856C727.83 863.5 728.63 869.75 730 880C731.37 890.25 733.28 904.5 734.7 917.5C736.12 930.5 736.85 944.37 738.5 958C740.15 971.63 742.23 988.32 744.6 999.3C746.97 1010.28 749.98 1019.12 752.7 1023.9C755.42 1028.68 758.17 1029.37 760.9 1028C763.63 1026.63 766.75 1019.53 769.1 1015.7C771.45 1011.87 773.28 1007.38 775 1005C776.72 1002.62 778.07 1001.4 779.4 1001.4C780.73 1001.4 781.65 1003.3 783 1005C784.35 1006.7 785.38 1006.4 787.5 1011.6C789.62 1016.8 792.97 1028.02 795.7 1036.2C798.43 1044.38 801.85 1055.07 803.9 1060.7C805.95 1066.33 806.43 1067.95 808 1070C809.57 1072.05 811.63 1073.67 813.3 1073C814.97 1072.33 816.5 1068.73 818 1066C819.5 1063.27 820.63 1059.93 822.3 1056.6C823.97 1053.27 825.95 1049.4 828 1046C830.05 1042.6 832.77 1040.53 834.6 1036.2C836.43 1031.87 837.63 1026.15 839 1020C840.37 1013.85 840.8 1012.98 842.8 999.3C844.8 985.62 848.27 958.37 851 937.9C853.73 917.43 857.2 891.15 859.2 876.5C861.2 861.85 861.63 856.13 863 850C864.37 843.87 866.07 840.53 867.4 839.7C868.73 838.87 869.65 841.58 871 845C872.35 848.42 873.38 850.87 875.5 860.2C877.62 869.53 880.97 884.63 883.7 901C886.43 917.37 889.17 940.65 891.9 958.4C894.63 976.15 897.37 995.23 900.1 1007.5C902.83 1019.77 906.32 1026.75 908.3 1032C910.28 1037.25 910.63 1037.62 912 1039C913.37 1040.38 915.17 1041.3 916.5 1040.3C917.83 1039.3 918.63 1036.42 920 1033C921.37 1029.58 922.55 1028.82 924.7 1019.8C926.85 1010.78 929.83 994.58 932.9 978.9C935.97 963.22 940.75 936.18 943.1 925.7C945.45 915.22 945.63 918.05 947 916C948.37 913.95 949.97 913.07 951.3 913.4C952.63 913.73 953.3 915.28 955 918C956.7 920.72 958.37 924.33 961.5 929.7C964.63 935.07 970.38 944.05 973.8 950.2C977.22 956.35 978.93 962.17 982 966.6C985.07 971.03 988.12 975.78 992.2 976.8C996.28 977.82 1002.82 974.08 1006.5 972.7C1010.18 971.32 1011.63 967.83 1014.3 968.5C1016.97 969.17 1019.77 970.22 1022.5 976.7C1025.23 983.18 1027.62 996.85 1030.7 1007.4C1033.78 1017.95 1038.07 1033.18 1041 1040C1043.93 1046.82 1045.58 1050.33 1048.3 1048.3C1051.02 1046.27 1053.75 1038.72 1057.3 1027.8C1060.85 1016.88 1065.52 997.12 1069.6 982.8C1073.68 968.48 1077.72 954.18 1081.8 941.9C1085.88 929.62 1090.55 915.78 1094.1 909.1C1097.65 902.42 1100.03 900.43 1103.1 901.8C1106.17 903.17 1108.88 909.27 1112.5 917.3C1116.12 925.33 1120.37 939.08 1124.8 950C1129.23 960.92 1135.23 976.13 1139.1 982.8C1142.97 989.47 1144.93 988.3 1148 990C1151.07 991.7 1154.67 993 1157.5 993C1160.33 993 1162.62 991.37 1165 990C1167.38 988.63 1168.95 988.05 1171.8 984.8C1174.65 981.55 1178.82 974.1 1182.1 970.5C1185.38 966.9 1188.1 963.2 1191.5 963.2C1194.9 963.2 1198.27 967.23 1202.5 970.5C1206.73 973.77 1211.78 979.73 1216.9 982.8C1222.02 985.87 1228.43 988.57 1233.2 988.9C1237.97 989.23 1241.87 986.62 1245.5 984.8C1249.13 982.98 1251.58 979.7 1255 978C1258.42 976.3 1261.45 974.15 1266 974.6C1270.55 975.05 1276.85 979.33 1282.3 980.7C1287.75 982.07 1293.25 983.13 1298.7 982.8C1304.15 982.47 1309 981.43 1315 978.7C1321 975.97 1331.42 968.45 1334.7 966.4" fill="none" stroke="#3b6fc7" stroke-width="4.6" stroke-linejoin="round" stroke-linecap="round"/>
<path d="M178.4 942C179 944.17 180.63 951.93 182 955C183.37 958.07 185.27 960.07 186.6 960.4C187.93 960.73 188.98 958.73 190 957C191.02 955.27 191.03 954.83 192.7 950C194.37 945.17 197.95 934.33 200 928C202.05 921.67 203.62 916.17 205 912C206.38 907.83 207.13 903.83 208.3 903C209.47 902.17 210.72 904.17 212 907C213.28 909.83 214.43 912.83 216 920C217.57 927.17 219.9 938.33 221.4 950C222.9 961.67 223.63 975 225 990C226.37 1005 227.93 1025.83 229.6 1040C231.27 1054.17 233.1 1064.72 235 1075C236.9 1085.28 239.17 1100.03 241 1101.7C242.83 1103.37 244.5 1093.62 246 1085C247.5 1076.38 248.67 1062.5 250 1050C251.33 1037.5 252.63 1021.85 254 1010C255.37 998.15 256.87 995.57 258.2 978.9C259.53 962.23 260.63 932.52 262 910C263.37 887.48 264.73 859.13 266.4 843.8C268.07 828.47 269.95 824.13 272 818C274.05 811.87 276.87 807 278.7 807C280.53 807 281.62 811.67 283 818C284.38 824.33 285.83 834.67 287 845C288.17 855.33 289 867.92 290 880C291 892.08 291.47 900.33 293 917.5C294.53 934.67 297.53 968.42 299.2 983C300.87 997.58 301.78 999.55 303 1005C304.22 1010.45 305.17 1014.2 306.5 1015.7C307.83 1017.2 309.5 1014.68 311 1014C312.5 1013.32 314.17 1015.27 315.5 1011.6C316.83 1007.93 317.63 999.5 319 992C320.37 984.5 321.87 975.27 323.7 966.6C325.53 957.93 327.95 948.93 330 940C332.05 931.07 334.33 922.22 336 913C337.67 903.78 338.67 891.37 340 884.7C341.33 878.03 342.83 875.52 344 873C345.17 870.48 345.75 869.27 347 869.6C348.25 869.93 350.43 872.43 351.5 875C352.57 877.57 352.88 864.33 353.4 885C353.92 905.67 354 975.67 354.6 999C355.2 1022.33 356 1017.5 357 1025C358 1032.5 359.27 1037.33 360.6 1044C361.93 1050.67 363.63 1058.83 365 1065C366.37 1071.17 367.47 1074.33 368.8 1081C370.13 1087.67 371.63 1097.5 373 1105C374.37 1112.5 375.67 1124.33 377 1126C378.33 1127.67 379.67 1122.67 381 1115C382.33 1107.33 383.5 1092.5 385 1080C386.5 1067.5 388.27 1053.5 390 1040C391.73 1026.5 393.73 1015.67 395.4 999C397.07 982.33 398.3 960.42 400 940C401.7 919.58 403.93 893.17 405.6 876.5C407.27 859.83 408.5 848.87 410 840C411.5 831.13 413.1 824.13 414.6 823.3C416.1 822.47 417.1 826.13 419 835C420.9 843.87 424.17 863.17 426 876.5C427.83 889.83 428.63 901.35 430 915C431.37 928.65 432.87 945.9 434.2 958.4C435.53 970.9 436.63 979.77 438 990C439.37 1000.23 440.63 1012.13 442.4 1019.8C444.17 1027.47 447 1034.3 448.6 1036C450.2 1037.7 450.37 1033.38 452 1030C453.63 1026.62 456.3 1025.58 458.4 1015.7C460.5 1005.82 462.22 982.32 464.6 970.7C466.98 959.08 470.47 951.95 472.7 946C474.93 940.05 475.95 939.07 478 935C480.05 930.93 483.17 922.43 485 921.6C486.83 920.77 487.63 925.93 489 930C490.37 934.07 491.2 938 493.2 946C495.2 954 499.03 968.17 501 978C502.97 987.83 503.57 996 505 1005C506.43 1014 507.47 1024.75 509.6 1032C511.73 1039.25 515.07 1049.85 517.8 1048.5C520.53 1047.15 523.63 1036.15 526 1023.9C528.37 1011.65 529.97 992.73 532 975C534.03 957.27 535.8 935.28 538.2 917.5C540.6 899.72 543.8 878.88 546.4 868.3C549 857.72 551.4 852.63 553.8 854C556.2 855.37 558.77 866.33 560.8 876.5C562.83 886.67 564.3 901.35 566 915C567.7 928.65 568.8 940.93 571 958.4C573.2 975.87 576.47 1004.78 579.2 1019.8C581.93 1034.82 584.68 1046.47 587.4 1048.5C590.12 1050.53 593.23 1039.25 595.5 1032C597.77 1024.75 598.95 1014.53 601 1005C603.05 995.47 605.3 984.63 607.8 974.8C610.3 964.97 613.63 952.63 616 946C618.37 939.37 620.3 937.37 622 935C623.7 932.63 624.87 931.63 626.2 931.8C627.53 931.97 628.63 933.63 630 936C631.37 938.37 631.95 939.53 634.4 946C636.85 952.47 641.28 968.63 644.7 974.8C648.12 980.97 652.35 982.47 654.9 983C657.45 983.53 658.3 980.73 660 978C661.7 975.27 663.43 972.1 665.1 966.6C666.77 961.1 668.28 953.18 670 945C671.72 936.82 673.73 925.83 675.4 917.5C677.07 909.17 678.3 900.47 680 895C681.7 889.53 683.93 885.2 685.6 884.7C687.27 884.2 688.3 887.22 690 892C691.7 896.78 694.13 905.4 695.8 913.4C697.47 921.4 698.3 929.08 700 940C701.7 950.92 704 967.57 706 978.9C708 990.23 709.95 999.15 712 1008C714.05 1016.85 715.92 1025 718.3 1032C720.68 1039 723.63 1052.03 726.3 1050C728.97 1047.97 731.25 1032.33 734.3 1019.8C737.35 1007.27 741.53 988.43 744.6 974.8C747.67 961.17 749.98 947.22 752.7 938C755.42 928.78 758.17 920.2 760.9 919.5C763.63 918.8 766.37 927.32 769.1 933.8C771.83 940.28 774.98 952.37 777.3 958.4C779.62 964.43 780.95 967.27 783 970C785.05 972.73 787.43 974.47 789.6 974.8C791.77 975.13 793.95 973.72 796 972C798.05 970.28 799.57 970.17 801.9 964.5C804.23 958.83 807.28 947.2 810 938C812.72 928.8 815.33 915.47 818.2 909.3C821.07 903.13 824.12 899.63 827.2 901C830.28 902.37 833.42 907.93 836.7 917.5C839.98 927.07 843.5 946.82 846.9 958.4C850.3 969.98 854.42 981.07 857.1 987C859.78 992.93 860.95 992.63 863 994C865.05 995.37 867.57 995.87 869.4 995.2C871.23 994.53 872.3 992.03 874 990C875.7 987.97 877.3 986.9 879.6 983C881.9 979.1 885.4 970.1 887.8 966.6C890.2 963.1 891.95 963.03 894 962C896.05 960.97 897.72 959.3 900.1 960.4C902.48 961.5 905.23 966.55 908.3 968.6C911.37 970.65 915.08 972.35 918.5 972.7C921.92 973.05 925.05 973.08 928.8 970.7C932.55 968.32 936.92 963.18 941 958.4C945.08 953.62 949.97 946.4 953.3 942C956.63 937.6 958.27 935.07 961 932C963.73 928.93 966.2 923.3 969.7 923.6C973.2 923.9 977.23 930.4 982 933.8C986.77 937.2 992.57 940.27 998.3 944C1004.03 947.73 1011.35 951.43 1016.4 956.2C1021.45 960.97 1024.85 967.82 1028.6 972.6C1032.35 977.38 1035.83 982.18 1038.9 984.9C1041.97 987.62 1043.93 989.25 1047 988.9C1050.07 988.55 1053.53 986.55 1057.3 982.8C1061.07 979.05 1065.52 972.2 1069.6 966.4C1073.68 960.6 1078.4 952.23 1081.8 948C1085.2 943.77 1087.27 942.57 1090 941C1092.73 939.43 1094.1 937.77 1098.2 938.6C1102.3 939.43 1109.13 944.1 1114.6 946C1120.07 947.9 1125.55 949.33 1131 950C1136.45 950.67 1141.85 948.97 1147.3 950C1152.75 951.03 1158.25 953.8 1163.7 956.2C1169.15 958.6 1174.55 962.35 1180 964.4C1185.45 966.45 1190.93 968.85 1196.4 968.5C1201.87 968.15 1207.35 964.68 1212.8 962.3C1218.25 959.92 1223.65 955.9 1229.1 954.2C1234.55 952.5 1240.03 951.9 1245.5 952.1C1250.97 952.3 1256.45 954.72 1261.9 955.4C1267.35 956.08 1272.75 956.4 1278.2 956.2C1283.65 956 1289.13 953.52 1294.6 954.2C1300.07 954.88 1306.23 958.8 1311 960.3C1315.77 961.8 1319.25 962.52 1323.2 963.2C1327.15 963.88 1332.78 964.2 1334.7 964.4" fill="none" stroke="#ff0000" stroke-width="4.6" stroke-linejoin="round" stroke-linecap="round"/>
<text x="189" y="991" font-size="26" text-anchor="middle" fill="#ff0000">G</text>
<text x="311" y="1044" font-size="26" text-anchor="middle" fill="#ff0000">F</text>
<text x="441" y="1065" font-size="26" text-anchor="middle" fill="#ff0000">E</text>
<text x="587" y="1077" font-size="26" text-anchor="middle" fill="#ff0000">D</text>
<text x="725" y="1079" font-size="26" text-anchor="middle" fill="#ff0000">C</text>
<text x="687.5" y="870.4" font-size="26" text-anchor="middle" fill="#ff0000">C'</text>
<text x="871.5" y="1026" font-size="26" text-anchor="middle" fill="#ff0000">B</text>
<text x="1047.6" y="972.6" font-size="26" text-anchor="middle" fill="#ff0000">A</text>
<text x="352.3" y="1191" font-size="26" text-anchor="middle" fill="#3b6fc7">IV</text>
<text x="593.2" y="1173.3" font-size="26" text-anchor="middle" fill="#3b6fc7">III</text>
<text x="678.4" y="1143.4" font-size="26" text-anchor="middle" fill="#3b6fc7">II'</text>
<text x="630.4" y="716.9" font-size="26" text-anchor="middle" fill="#3b6fc7">II''</text>
<text x="806" y="1112.7" font-size="26" text-anchor="middle" fill="#3b6fc7">II</text>
<text x="1048.3" y="1075" font-size="26" text-anchor="middle" fill="#3b6fc7">I</text>
<path d="M1118.7 673.9H1224.2" stroke="#ff0000" stroke-width="4.5"/>
<path d="M1118.7 731.2H1224.2" stroke="#3b6fc7" stroke-width="4.5"/>
<text x="1228.5" y="681" font-size="26.5">[ 0 1 0]</text>
<text x="1228.5" y="740.8" font-size="26.5">[ 1 0 0]</text>
<linearGradient id="gs" x1="0" y1="0" x2="0" y2="1"><stop offset="0" stop-color="#fff"/><stop offset="1" stop-color="#ebebeb"/></linearGradient><rect x="55" y="1669.5" width="515" height="11.5" fill="url(#gs)"/>
<use href="#Fb" transform="matrix(21.9 0 0 20.5 226 1533.5)"/>
<use href="#Fp" transform="matrix(21.8 0 0 20.7 424.6 1533.3)"/>
<use href="#Fb" transform="matrix(20.2 0 0 19.8 709.8 1534)"/>
<use href="#Fp" transform="matrix(20.2 0 0 19.8 835 1534)"/>
<use href="#Fb" transform="matrix(19.8 0 0 20.2 1095 1535.3)"/>
<g clip-path="url(#clipIII)"><use href="#Fp" transform="matrix(19.8 0 0 20.2 1162 1532.8)"/></g>
<use href="#Fb" transform="matrix(22.1 0 -.88 22.1 1443.5 1536)"/>
<use href="#Fp" transform="matrix(22.1 0 -.88 22.1 1446.7 1533)"/>
<rect x="1.5" y="1381.4" width="1697.3" height="304.2" fill="none" stroke="#3b70c8" stroke-width="3.3"/>
<text x="11.5" y="1418.5" font-size="46" font-weight="bold" fill="#3b70c8">c</text>
<text x="104.5" y="1422" font-size="26" text-anchor="middle">I</text>
<text x="578" y="1422" font-size="26" text-anchor="middle">II</text>
<text x="969.3" y="1422" font-size="26" text-anchor="middle">III</text>
<text x="1308.5" y="1422" font-size="26" text-anchor="middle">IV</text>
<use href="#Fb" transform="matrix(18.5 0 0 19 1561 180.5)"/>
<use href="#Fp" transform="matrix(18.6 0 0 19 1561.5 382)"/>
<use href="#Fb" transform="matrix(18.1 0 0 19 1857.5 185)"/>
<use href="#Fp" transform="matrix(18.3 0 0 19 1857.6 340.5)"/>
<use href="#Fb" transform="matrix(20.7 0 0 20.7 1566.5 678.9)"/>
<use href="#Fp" transform="matrix(20.9 0 0 20.7 1567 826.1)"/>
<use href="#Fb" transform="matrix(18.8 0 0 19.2 1851.5 667.4)"/>
<use href="#Fp" transform="matrix(19.05 0 0 19.2 1854.5 758.1)"/>
<use href="#Fb" transform="matrix(19.9 0 0 20 1552.75 1146.7)"/>
<use href="#Fp" transform="matrix(19.9 0 0 20 1554.8 1217.6)"/>
<use href="#Fb" transform="matrix(18 0 0 18.3 1857.65 1118.7)"/>
<g clip-path="url(#clipF)"><use href="#Fp" transform="matrix(18.2 0 0 18.3 1860.85 1147.9)"/></g>
<use href="#Fb" transform="matrix(20.4 0 0 20.9 1854 1502)"/>
<use href="#Fp" transform="matrix(20.4 0 0 20.9 1855.6 1500.5)"/>
<path d="M1402.5 1381V1.6H1998.5" fill="none" stroke="#ff0000" stroke-width="3.2"/>
<path d="M1700 1685.4H2000" stroke="#ff0000" stroke-width="3.2"/>
<path d="M1999.5 3V1684" stroke="#ffb4b4" stroke-width="1"/>
<text x="1358" y="49.3" font-size="46" font-weight="bold" fill="#ff0000">d</text>
<text x="1427.8" y="74.8" font-size="26" text-anchor="middle">A</text>
<text x="1740" y="80.7" font-size="26" text-anchor="middle">B</text>
<text x="1428.5" y="581.5" font-size="26" text-anchor="middle">C</text>
<text x="1744.7" y="574" font-size="26" text-anchor="middle">D</text>
<text x="1447.3" y="1024" font-size="26" text-anchor="middle">E</text>
<text x="1734" y="1028" font-size="26" text-anchor="middle">F</text>
<text x="1730.8" y="1392.6" font-size="26" text-anchor="middle">G</text>
</svg></body></html>
